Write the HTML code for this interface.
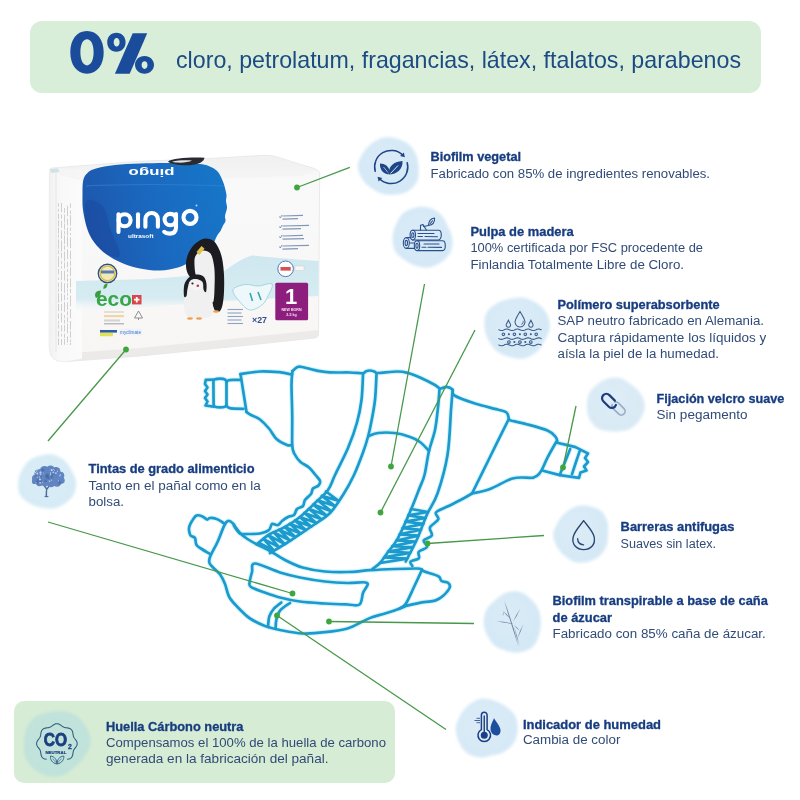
<!DOCTYPE html>
<html><head><meta charset="utf-8"><style>
html,body{margin:0;padding:0;background:#fff;}
body{width:800px;height:800px;position:relative;overflow:hidden;font-family:"Liberation Sans", sans-serif;}
.box{position:absolute;}
svg{position:absolute;left:0;top:0;will-change:transform;}
text{font-family:"Liberation Sans", sans-serif;}
</style></head><body>
<div class="box" style="left:30px;top:21px;width:731px;height:72px;background:#d9eed8;border-radius:12px;"></div>
<div class="box" style="left:14px;top:701px;width:381px;height:82px;background:#d7ecd5;border-radius:10px;"></div>
<svg width="800" height="800" viewBox="0 0 800 800">
<defs><filter id="bl" x="-20%" y="-20%" width="140%" height="140%"><feGaussianBlur stdDeviation="1.6"/></filter>
<radialGradient id="bg0" cx="0.45" cy="0.42" r="0.6"><stop offset="0" stop-color="#d4e8f6" stop-opacity="0.85"/><stop offset="0.8" stop-color="#d4e8f6"/><stop offset="1" stop-color="#d4e8f6"/></radialGradient>
<radialGradient id="bg1" cx="0.45" cy="0.42" r="0.6"><stop offset="0" stop-color="#d4e8f6" stop-opacity="0.85"/><stop offset="0.8" stop-color="#d4e8f6"/><stop offset="1" stop-color="#d4e8f6"/></radialGradient>
<radialGradient id="bg2" cx="0.45" cy="0.42" r="0.6"><stop offset="0" stop-color="#d5e9f6" stop-opacity="0.85"/><stop offset="0.8" stop-color="#d5e9f6"/><stop offset="1" stop-color="#d5e9f6"/></radialGradient>
<radialGradient id="bg3" cx="0.45" cy="0.42" r="0.6"><stop offset="0" stop-color="#d9eaf5" stop-opacity="0.85"/><stop offset="0.8" stop-color="#d9eaf5"/><stop offset="1" stop-color="#d9eaf5"/></radialGradient>
<radialGradient id="bg4" cx="0.45" cy="0.42" r="0.6"><stop offset="0" stop-color="#d5e9f5" stop-opacity="0.85"/><stop offset="0.8" stop-color="#d5e9f5"/><stop offset="1" stop-color="#d5e9f5"/></radialGradient>
<radialGradient id="bg5" cx="0.45" cy="0.42" r="0.6"><stop offset="0" stop-color="#d4e8f5" stop-opacity="0.85"/><stop offset="0.8" stop-color="#d4e8f5"/><stop offset="1" stop-color="#d4e8f5"/></radialGradient>
<radialGradient id="bg6" cx="0.45" cy="0.42" r="0.6"><stop offset="0" stop-color="#d6e9f6" stop-opacity="0.85"/><stop offset="0.8" stop-color="#d6e9f6"/><stop offset="1" stop-color="#d6e9f6"/></radialGradient>
<radialGradient id="bg7" cx="0.45" cy="0.42" r="0.6"><stop offset="0" stop-color="#d6ebf5" stop-opacity="0.85"/><stop offset="0.8" stop-color="#d6ebf5"/><stop offset="1" stop-color="#d6ebf5"/></radialGradient>
<radialGradient id="bg8" cx="0.45" cy="0.42" r="0.6"><stop offset="0" stop-color="#bfe2da" stop-opacity="0.85"/><stop offset="0.8" stop-color="#bfe2da"/><stop offset="1" stop-color="#bfe2da"/></radialGradient>
</defs>
<path d="M418.5,166.5 C418.8,170.9 419.3,176.0 417.7,180.1 C416.1,184.1 412.4,188.3 408.8,190.7 C405.2,193.1 400.1,193.9 395.9,194.4 C391.6,195.0 387.2,195.0 383.2,194.0 C379.2,193.0 375.4,190.9 372.0,188.4 C368.6,186.0 365.0,183.1 362.7,179.4 C360.3,175.8 357.9,170.8 357.9,166.5 C357.9,162.2 360.4,157.4 362.7,153.6 C364.9,149.8 368.0,146.4 371.4,143.8 C374.8,141.1 378.8,138.6 382.9,137.7 C387.0,136.8 391.8,137.4 395.9,138.4 C400.0,139.4 404.4,141.0 407.8,143.6 C411.1,146.2 413.9,150.1 415.7,153.9 C417.5,157.7 418.1,162.1 418.5,166.5Z" fill="url(#bg0)" filter="url(#bl)"/>
<path d="M452.1,237.5 C452.7,241.8 452.8,247.2 451.0,251.2 C449.3,255.3 445.5,259.1 441.9,261.8 C438.3,264.5 433.6,266.7 429.3,267.4 C425.0,268.0 420.2,267.0 416.0,265.8 C411.9,264.6 408.1,262.4 404.6,259.9 C401.1,257.4 397.0,254.5 395.0,250.7 C393.0,247.0 392.6,241.8 392.7,237.5 C392.9,233.2 394.1,228.7 395.9,224.7 C397.6,220.6 399.9,216.1 403.2,213.3 C406.5,210.4 411.3,208.5 415.7,207.5 C420.0,206.6 425.1,206.5 429.3,207.7 C433.5,208.8 437.9,211.5 440.9,214.5 C443.9,217.4 445.5,221.7 447.3,225.5 C449.2,229.4 451.5,233.2 452.1,237.5Z" fill="url(#bg1)" filter="url(#bl)"/>
<path d="M549.8,327.5 C549.5,332.1 546.8,336.7 544.6,340.8 C542.5,344.9 540.1,349.2 536.6,352.1 C533.2,355.0 528.4,357.5 524.0,358.4 C519.6,359.2 514.6,358.3 510.2,357.2 C505.8,356.1 501.2,354.5 497.6,351.8 C494.1,349.1 491.0,345.1 488.9,341.1 C486.7,337.0 485.0,332.2 484.6,327.5 C484.2,322.8 484.4,316.9 486.5,312.8 C488.7,308.8 493.6,305.5 497.6,303.1 C501.5,300.8 506.1,299.7 510.4,298.8 C514.8,297.9 519.4,297.0 523.8,297.7 C528.1,298.5 532.7,300.5 536.5,303.0 C540.3,305.6 544.5,309.1 546.7,313.2 C548.9,317.3 550.1,322.9 549.8,327.5Z" fill="url(#bg2)" filter="url(#bl)"/>
<path d="M644.8,405.5 C644.9,409.6 643.1,414.4 641.0,418.0 C639.0,421.7 635.9,425.2 632.5,427.4 C629.1,429.6 624.8,430.6 620.9,431.3 C617.0,431.9 613.1,431.7 609.1,431.2 C605.1,430.7 600.3,430.3 596.9,428.1 C593.6,425.9 590.6,421.8 588.9,418.1 C587.2,414.3 586.8,409.7 586.9,405.5 C586.9,401.3 587.5,396.8 589.3,393.1 C591.2,389.5 594.5,386.3 597.7,383.9 C601.0,381.4 604.9,379.2 608.8,378.3 C612.7,377.4 617.4,377.3 621.2,378.4 C625.0,379.5 628.3,382.3 631.5,384.8 C634.7,387.3 638.1,389.8 640.3,393.3 C642.6,396.7 644.7,401.4 644.8,405.5Z" fill="url(#bg3)" filter="url(#bl)"/>
<path d="M607.9,534.0 C607.8,538.0 607.9,542.2 606.6,545.8 C605.2,549.5 602.6,553.4 599.6,556.0 C596.5,558.7 592.3,560.7 588.3,561.7 C584.3,562.8 579.5,563.3 575.6,562.3 C571.6,561.3 567.8,558.4 564.7,555.7 C561.5,553.0 558.6,549.8 556.7,546.2 C554.8,542.6 553.1,538.0 553.3,534.0 C553.5,530.0 555.9,525.9 557.9,522.4 C559.9,518.9 562.3,515.7 565.3,513.1 C568.3,510.4 571.9,507.7 575.7,506.5 C579.6,505.3 584.3,505.2 588.4,505.9 C592.6,506.6 597.5,508.0 600.6,510.6 C603.8,513.3 606.2,517.9 607.4,521.8 C608.6,525.7 608.1,530.0 607.9,534.0Z" fill="url(#bg4)" filter="url(#bl)"/>
<path d="M540.8,622.5 C540.8,626.6 540.3,630.9 538.9,635.0 C537.6,639.1 535.8,644.2 532.6,647.1 C529.4,650.0 524.1,651.6 519.8,652.2 C515.4,652.9 510.7,652.1 506.5,650.9 C502.3,649.8 497.9,648.2 494.6,645.6 C491.4,642.9 488.9,638.8 487.1,635.0 C485.2,631.2 483.8,626.7 483.8,622.5 C483.7,618.3 484.6,613.5 486.5,609.7 C488.4,606.0 491.9,603.0 495.2,600.2 C498.5,597.3 502.1,594.1 506.2,592.7 C510.3,591.4 515.8,590.8 520.0,591.9 C524.2,593.0 528.2,596.5 531.3,599.5 C534.5,602.5 537.1,606.3 538.7,610.1 C540.3,614.0 540.7,618.4 540.8,622.5Z" fill="url(#bg5)" filter="url(#bl)"/>
<path d="M517.7,728.5 C517.6,733.0 516.5,738.1 514.4,741.9 C512.2,745.7 508.4,749.2 504.8,751.4 C501.2,753.7 496.8,754.3 492.6,755.3 C488.5,756.3 484.2,757.8 479.9,757.4 C475.6,757.1 470.5,755.6 466.9,753.0 C463.4,750.4 460.7,745.9 458.8,741.8 C457.0,737.7 455.6,732.9 455.8,728.5 C456.0,724.1 457.8,719.5 459.9,715.7 C462.0,711.9 464.9,708.4 468.2,705.6 C471.5,702.8 475.6,699.8 479.7,698.9 C483.9,698.0 488.8,699.1 493.0,700.2 C497.1,701.3 501.1,703.3 504.7,705.7 C508.3,708.2 512.4,711.2 514.6,715.0 C516.8,718.8 517.7,724.0 517.7,728.5Z" fill="url(#bg6)" filter="url(#bl)"/>
<path d="M76.2,482.0 C76.5,486.1 75.6,491.2 73.6,494.8 C71.6,498.5 67.9,501.6 64.4,503.9 C61.0,506.2 56.9,507.9 53.1,508.5 C49.2,509.1 45.1,508.3 41.2,507.5 C37.3,506.6 33.4,505.6 29.8,503.5 C26.3,501.4 22.0,498.6 20.1,495.0 C18.1,491.4 17.9,486.2 18.2,482.0 C18.5,477.8 20.0,473.5 21.9,469.9 C23.8,466.3 26.4,462.6 29.6,460.2 C32.8,457.8 37.0,456.4 41.0,455.5 C44.9,454.6 49.3,453.9 53.2,454.7 C57.1,455.5 61.3,457.7 64.3,460.3 C67.3,462.9 69.4,466.6 71.4,470.2 C73.4,473.9 75.8,477.9 76.2,482.0Z" fill="url(#bg7)" filter="url(#bl)"/>
<path d="M90.5,743.0 C90.1,747.8 87.2,752.8 84.6,756.8 C82.1,760.8 78.5,763.7 74.9,766.8 C71.4,769.8 67.8,773.6 63.3,775.2 C58.9,776.7 53.2,777.0 48.4,776.1 C43.7,775.2 38.6,772.7 34.8,769.6 C30.9,766.6 27.3,762.1 25.5,757.7 C23.7,753.3 23.8,747.8 23.9,743.0 C24.1,738.2 24.6,733.1 26.5,728.8 C28.3,724.4 31.5,719.7 35.2,717.0 C39.0,714.2 44.3,713.2 49.0,712.3 C53.7,711.3 58.5,710.6 63.2,711.3 C67.9,712.0 73.3,713.6 77.2,716.4 C81.1,719.2 84.6,723.7 86.8,728.1 C89.1,732.6 90.8,738.2 90.5,743.0Z" fill="url(#bg8)" filter="url(#bl)"/>
<g>
<defs><linearGradient id="pkL" x1="0" x2="1" y1="0" y2="0"><stop offset="0" stop-color="#f1f1f1"/><stop offset="0.3" stop-color="#f8f8f8"/><stop offset="1" stop-color="#fbfbfb"/></linearGradient><linearGradient id="pkB" x1="0" x2="1" y1="0.3" y2="0.1"><stop offset="0" stop-color="#1d58ae"/><stop offset="0.45" stop-color="#1a69c0"/><stop offset="1" stop-color="#1677c8"/></linearGradient><linearGradient id="ice" x1="0" x2="0" y1="0" y2="1"><stop offset="0" stop-color="#cfe7ef"/><stop offset="0.75" stop-color="#d6ecf2"/><stop offset="1" stop-color="#f3f8f9" stop-opacity="0"/></linearGradient><linearGradient id="pkBody" x1="0" x2="0" y1="0" y2="1"><stop offset="0" stop-color="#f2f2f2"/><stop offset="0.12" stop-color="#f9f9f9"/><stop offset="1" stop-color="#f8f6f5"/></linearGradient></defs>
<path d="M49.4,171 C49.4,169 50.5,168.2 52,168 L140,161.3 L204,158.8 L264,155.3 C270,155.2 274,156 278,157.2 L292.5,161.9 L311,167.5 C316,169 319.5,170.5 319.7,173.5 L318.5,333.5 C318.3,336.5 317.3,337.6 314.5,338 L240,346 L140,356 L66,361.6 C59,361.8 54,360.3 51.5,356.5 C49.8,353.5 49.2,350 49.2,346 Z" fill="url(#pkBody)" stroke="#e4e4e4" stroke-width="0.8"/>
<path d="M49.5,340 C55,350 60,353 70,353 L140,348 L240,338 L318.5,330 L318.5,333.5 C318.3,336.5 317.3,337.6 314.5,338 L240,346 L140,356 L66,361.6 C59,361.8 54,360.3 51.5,356.5 C49.8,353.5 49.2,350 49.2,346 Z" fill="#e9e7e6" opacity="0.8"/>
<path d="M49.6,171 C49.8,169 51,168.3 52.5,168.2 L82,170 L82,358.5 L66,361.4 C59,361.6 54,360 51.6,356.4 C50,353.5 49.4,350 49.4,346 Z" fill="url(#pkL)"/>
<line x1="56" y1="172" x2="56" y2="352" stroke="#e6e6e6" stroke-width="1"/>
<path d="M50,169 L58,168.3 L60,172 L51,173 Z" fill="#cfe3e6"/>
<line x1="58.5" y1="203.2" x2="58.5" y2="206.6" stroke="#cfcfcf" stroke-width="1"/>
<line x1="58.5" y1="208.9" x2="58.5" y2="211.5" stroke="#cfcfcf" stroke-width="1"/>
<line x1="58.5" y1="213.6" x2="58.5" y2="218.9" stroke="#cfcfcf" stroke-width="1"/>
<line x1="58.5" y1="220.0" x2="58.5" y2="226.6" stroke="#cfcfcf" stroke-width="1"/>
<line x1="58.5" y1="227.7" x2="58.5" y2="233.6" stroke="#cfcfcf" stroke-width="1"/>
<line x1="58.5" y1="234.7" x2="58.5" y2="237.5" stroke="#cfcfcf" stroke-width="1"/>
<line x1="58.5" y1="239.4" x2="58.5" y2="248.8" stroke="#cfcfcf" stroke-width="1"/>
<line x1="58.5" y1="250.1" x2="58.5" y2="254.1" stroke="#cfcfcf" stroke-width="1"/>
<line x1="58.5" y1="256.3" x2="58.5" y2="266.9" stroke="#cfcfcf" stroke-width="1"/>
<line x1="58.5" y1="269.0" x2="58.5" y2="274.6" stroke="#cfcfcf" stroke-width="1"/>
<line x1="58.5" y1="277.5" x2="58.5" y2="280.0" stroke="#cfcfcf" stroke-width="1"/>
<line x1="58.5" y1="282.7" x2="58.5" y2="287.3" stroke="#cfcfcf" stroke-width="1"/>
<line x1="58.5" y1="288.6" x2="58.5" y2="291.6" stroke="#cfcfcf" stroke-width="1"/>
<line x1="58.5" y1="293.2" x2="58.5" y2="302.6" stroke="#cfcfcf" stroke-width="1"/>
<line x1="58.5" y1="304.0" x2="58.5" y2="311.2" stroke="#cfcfcf" stroke-width="1"/>
<line x1="58.5" y1="313.5" x2="58.5" y2="318.8" stroke="#cfcfcf" stroke-width="1"/>
<line x1="58.5" y1="320.9" x2="58.5" y2="323.5" stroke="#cfcfcf" stroke-width="1"/>
<line x1="58.5" y1="324.6" x2="58.5" y2="328.5" stroke="#cfcfcf" stroke-width="1"/>
<line x1="58.5" y1="330.8" x2="58.5" y2="336.7" stroke="#cfcfcf" stroke-width="1"/>
<line x1="58.5" y1="338.3" x2="58.5" y2="345.0" stroke="#cfcfcf" stroke-width="1"/>
<line x1="61.5" y1="203.0" x2="61.5" y2="212.1" stroke="#cfcfcf" stroke-width="1"/>
<line x1="61.5" y1="214.5" x2="61.5" y2="218.7" stroke="#cfcfcf" stroke-width="1"/>
<line x1="61.5" y1="220.9" x2="61.5" y2="227.6" stroke="#cfcfcf" stroke-width="1"/>
<line x1="61.5" y1="230.4" x2="61.5" y2="238.9" stroke="#cfcfcf" stroke-width="1"/>
<line x1="61.5" y1="240.5" x2="61.5" y2="251.3" stroke="#cfcfcf" stroke-width="1"/>
<line x1="61.5" y1="252.6" x2="61.5" y2="258.3" stroke="#cfcfcf" stroke-width="1"/>
<line x1="61.5" y1="260.8" x2="61.5" y2="264.2" stroke="#cfcfcf" stroke-width="1"/>
<line x1="61.5" y1="266.2" x2="61.5" y2="268.5" stroke="#cfcfcf" stroke-width="1"/>
<line x1="61.5" y1="270.9" x2="61.5" y2="279.8" stroke="#cfcfcf" stroke-width="1"/>
<line x1="61.5" y1="281.9" x2="61.5" y2="291.8" stroke="#cfcfcf" stroke-width="1"/>
<line x1="61.5" y1="293.4" x2="61.5" y2="301.7" stroke="#cfcfcf" stroke-width="1"/>
<line x1="61.5" y1="303.9" x2="61.5" y2="311.1" stroke="#cfcfcf" stroke-width="1"/>
<line x1="61.5" y1="313.0" x2="61.5" y2="322.6" stroke="#cfcfcf" stroke-width="1"/>
<line x1="61.5" y1="325.4" x2="61.5" y2="331.7" stroke="#cfcfcf" stroke-width="1"/>
<line x1="61.5" y1="334.0" x2="61.5" y2="336.6" stroke="#cfcfcf" stroke-width="1"/>
<line x1="61.5" y1="339.0" x2="61.5" y2="345.0" stroke="#cfcfcf" stroke-width="1"/>
<line x1="64.5" y1="208.2" x2="64.5" y2="212.8" stroke="#cfcfcf" stroke-width="1"/>
<line x1="64.5" y1="214.6" x2="64.5" y2="222.6" stroke="#cfcfcf" stroke-width="1"/>
<line x1="64.5" y1="223.6" x2="64.5" y2="229.8" stroke="#cfcfcf" stroke-width="1"/>
<line x1="64.5" y1="231.1" x2="64.5" y2="234.2" stroke="#cfcfcf" stroke-width="1"/>
<line x1="64.5" y1="235.3" x2="64.5" y2="244.2" stroke="#cfcfcf" stroke-width="1"/>
<line x1="64.5" y1="245.5" x2="64.5" y2="249.7" stroke="#cfcfcf" stroke-width="1"/>
<line x1="64.5" y1="251.5" x2="64.5" y2="261.3" stroke="#cfcfcf" stroke-width="1"/>
<line x1="64.5" y1="262.5" x2="64.5" y2="268.5" stroke="#cfcfcf" stroke-width="1"/>
<line x1="64.5" y1="270.6" x2="64.5" y2="280.6" stroke="#cfcfcf" stroke-width="1"/>
<line x1="64.5" y1="283.2" x2="64.5" y2="293.0" stroke="#cfcfcf" stroke-width="1"/>
<line x1="64.5" y1="294.5" x2="64.5" y2="300.3" stroke="#cfcfcf" stroke-width="1"/>
<line x1="64.5" y1="302.0" x2="64.5" y2="311.9" stroke="#cfcfcf" stroke-width="1"/>
<line x1="64.5" y1="314.9" x2="64.5" y2="318.2" stroke="#cfcfcf" stroke-width="1"/>
<line x1="64.5" y1="319.6" x2="64.5" y2="323.7" stroke="#cfcfcf" stroke-width="1"/>
<line x1="64.5" y1="325.1" x2="64.5" y2="331.5" stroke="#cfcfcf" stroke-width="1"/>
<line x1="64.5" y1="333.7" x2="64.5" y2="338.0" stroke="#cfcfcf" stroke-width="1"/>
<line x1="64.5" y1="339.0" x2="64.5" y2="344.8" stroke="#cfcfcf" stroke-width="1"/>
<line x1="67.5" y1="205.7" x2="67.5" y2="216.2" stroke="#cfcfcf" stroke-width="1"/>
<line x1="67.5" y1="218.6" x2="67.5" y2="225.3" stroke="#cfcfcf" stroke-width="1"/>
<line x1="67.5" y1="227.5" x2="67.5" y2="235.6" stroke="#cfcfcf" stroke-width="1"/>
<line x1="67.5" y1="236.7" x2="67.5" y2="246.8" stroke="#cfcfcf" stroke-width="1"/>
<line x1="67.5" y1="249.3" x2="67.5" y2="259.2" stroke="#cfcfcf" stroke-width="1"/>
<line x1="67.5" y1="261.8" x2="67.5" y2="267.3" stroke="#cfcfcf" stroke-width="1"/>
<line x1="67.5" y1="269.1" x2="67.5" y2="272.1" stroke="#cfcfcf" stroke-width="1"/>
<line x1="67.5" y1="274.3" x2="67.5" y2="276.9" stroke="#cfcfcf" stroke-width="1"/>
<line x1="67.5" y1="278.0" x2="67.5" y2="281.9" stroke="#cfcfcf" stroke-width="1"/>
<line x1="67.5" y1="283.2" x2="67.5" y2="288.3" stroke="#cfcfcf" stroke-width="1"/>
<line x1="67.5" y1="289.4" x2="67.5" y2="291.4" stroke="#cfcfcf" stroke-width="1"/>
<line x1="67.5" y1="292.7" x2="67.5" y2="295.6" stroke="#cfcfcf" stroke-width="1"/>
<line x1="67.5" y1="297.4" x2="67.5" y2="299.6" stroke="#cfcfcf" stroke-width="1"/>
<line x1="67.5" y1="302.3" x2="67.5" y2="309.9" stroke="#cfcfcf" stroke-width="1"/>
<line x1="67.5" y1="311.2" x2="67.5" y2="315.4" stroke="#cfcfcf" stroke-width="1"/>
<line x1="67.5" y1="317.1" x2="67.5" y2="322.4" stroke="#cfcfcf" stroke-width="1"/>
<line x1="67.5" y1="323.6" x2="67.5" y2="333.3" stroke="#cfcfcf" stroke-width="1"/>
<line x1="67.5" y1="336.3" x2="67.5" y2="342.5" stroke="#cfcfcf" stroke-width="1"/>
<line x1="67.5" y1="344.4" x2="67.5" y2="345.0" stroke="#cfcfcf" stroke-width="1"/>
<line x1="70.5" y1="203.4" x2="70.5" y2="207.8" stroke="#cfcfcf" stroke-width="1"/>
<line x1="70.5" y1="210.5" x2="70.5" y2="213.9" stroke="#cfcfcf" stroke-width="1"/>
<line x1="70.5" y1="215.0" x2="70.5" y2="225.5" stroke="#cfcfcf" stroke-width="1"/>
<line x1="70.5" y1="227.6" x2="70.5" y2="230.9" stroke="#cfcfcf" stroke-width="1"/>
<line x1="70.5" y1="233.0" x2="70.5" y2="235.2" stroke="#cfcfcf" stroke-width="1"/>
<line x1="70.5" y1="237.3" x2="70.5" y2="248.1" stroke="#cfcfcf" stroke-width="1"/>
<line x1="70.5" y1="250.8" x2="70.5" y2="259.1" stroke="#cfcfcf" stroke-width="1"/>
<line x1="70.5" y1="260.6" x2="70.5" y2="265.9" stroke="#cfcfcf" stroke-width="1"/>
<line x1="70.5" y1="267.2" x2="70.5" y2="276.2" stroke="#cfcfcf" stroke-width="1"/>
<line x1="70.5" y1="278.3" x2="70.5" y2="287.3" stroke="#cfcfcf" stroke-width="1"/>
<line x1="70.5" y1="288.9" x2="70.5" y2="292.9" stroke="#cfcfcf" stroke-width="1"/>
<line x1="70.5" y1="295.6" x2="70.5" y2="306.4" stroke="#cfcfcf" stroke-width="1"/>
<line x1="70.5" y1="309.1" x2="70.5" y2="318.4" stroke="#cfcfcf" stroke-width="1"/>
<line x1="70.5" y1="321.0" x2="70.5" y2="329.7" stroke="#cfcfcf" stroke-width="1"/>
<line x1="70.5" y1="331.1" x2="70.5" y2="337.8" stroke="#cfcfcf" stroke-width="1"/>
<line x1="70.5" y1="339.5" x2="70.5" y2="341.8" stroke="#cfcfcf" stroke-width="1"/>
<line x1="70.5" y1="342.8" x2="70.5" y2="345.0" stroke="#cfcfcf" stroke-width="1"/>
<path d="M57,167.5 L167,161.2 L264,155.8 C272,155.7 278,157 285,159.5 C296,163 308,167 316,170.5 L300,176 L230,178 L88,182 L60,175 Z" fill="#efefef" opacity="0.45"/>
<path d="M76,281 L150,279 L200,275 L222,272.5 C232,266 242,258 252,255.6 C262,256 268,257 274,257.5 C290,259 305,260 318.5,261 L318.5,296 L210,302 L76,313 Z" fill="url(#ice)"/>
<path d="M83.3,180.0 C84.2,176.2 85.9,174.4 88.0,172.5 C90.1,170.6 91.5,169.8 96.0,168.5 C100.5,167.2 107.7,165.8 115.0,165.0 C122.3,164.2 130.8,163.8 140.0,163.5 C149.2,163.2 160.0,162.9 170.0,163.0 C180.0,163.1 193.0,163.2 200.0,164.0 C207.0,164.8 209.0,166.2 212.0,167.5 C215.0,168.8 216.5,170.4 218.0,172.0 C219.5,173.6 220.1,175.2 221.0,177.0 C221.9,178.8 222.8,181.2 223.5,183.0 C224.2,184.8 224.5,186.0 225.0,188.0 C225.5,190.0 226.3,192.8 226.5,195.0 C226.7,197.2 225.9,198.8 226.0,201.0 C226.1,203.2 227.2,205.5 227.0,208.0 C226.8,210.5 225.2,213.8 225.0,216.0 C224.8,218.2 225.8,219.4 225.5,221.0 C225.2,222.6 223.8,223.9 223.0,225.6 C222.2,227.3 221.4,229.4 220.5,231.0 C219.6,232.6 218.3,233.7 217.5,235.0 C216.7,236.3 216.1,237.8 215.5,239.0 C214.9,240.2 215.4,240.3 213.8,242.5 C212.2,244.7 209.6,248.9 206.0,252.0 C202.4,255.1 196.7,258.4 192.0,261.0 C187.3,263.6 183.3,265.9 178.0,267.5 C172.7,269.1 166.3,270.3 160.0,270.5 C153.7,270.7 146.3,269.8 140.0,268.5 C133.7,267.2 127.7,265.4 122.0,263.0 C116.3,260.6 110.7,257.5 106.0,254.0 C101.3,250.5 97.2,246.3 94.0,242.0 C90.8,237.7 88.8,233.3 87.0,228.0 C85.2,222.7 83.8,215.5 83.0,210.0 C82.2,204.5 82.5,200.0 82.5,195.0 C82.5,190.0 82.4,183.8 83.3,180.0Z" fill="url(#pkB)"/>
<path d="M85.0,205.0 C85.8,200.3 88.8,199.5 92.0,200.0 C95.2,200.5 101.0,203.3 104.0,208.0 C107.0,212.7 107.3,220.2 110.0,228.0 C112.7,235.8 120.7,250.7 120.0,255.0 C119.3,259.3 110.3,256.2 106.0,254.0 C101.7,251.8 97.2,246.3 94.0,242.0 C90.8,237.7 88.5,234.2 87.0,228.0 C85.5,221.8 84.2,209.7 85.0,205.0Z" fill="#1b3f95" opacity="0.35"/>
<path d="M86,186 C120,184 180,184 224,186" stroke="#3c86d0" stroke-width="1.2" fill="none" opacity="0.6"/>
<text x="0" y="0" transform="translate(151.5,168.5) rotate(180)" font-size="11" font-weight="700" fill="#ffffff" text-anchor="middle" textLength="46" lengthAdjust="spacingAndGlyphs">pingo</text>
<g fill="none" stroke="#ffffff" stroke-width="4.1" stroke-linecap="round"><path d="M118.5,214.3 L118.5,232"/><circle cx="124.6" cy="220.3" r="6.0"/><path d="M138,214.3 L138,226.8"/><path d="M145.4,226.8 L145.4,219.2 A6.25,6.25 0 0 1 157.9,219.2 L157.9,226.8"/><circle cx="170.3" cy="219.6" r="5.7"/><path d="M176,214 L176,227.5 C176,232 173,233.6 169.5,233.6 C167,233.6 165.2,232.8 164.2,231.8"/><circle cx="190" cy="217.4" r="6.5"/></g>
<text x="128" y="237.6" font-size="6" font-weight="700" fill="#ffffff" textLength="25.5" lengthAdjust="spacingAndGlyphs">ultrasoft</text>
<circle cx="196.5" cy="205.5" r="1" fill="#a8d8ff"/>
<path d="M168,161.5 C172,158.5 190,157 204.5,157.8 C204,161.5 199,164.8 190,165.2 C180,165.6 171,164.5 168,161.5 Z" fill="#2a2b30"/>
<path d="M172,161.8 C178,160.2 186,160 192,160.6 C188,162.8 178,163.4 172,161.8 Z" fill="#e4e4e4"/>
<path d="M205.0,238.5 C207.8,238.1 210.8,239.1 213.0,240.5 C215.2,241.9 216.5,244.1 218.0,247.0 C219.5,249.9 221.0,253.3 222.0,258.0 C223.0,262.7 223.7,269.3 224.0,275.0 C224.3,280.7 224.2,287.0 224.0,292.0 C223.8,297.0 223.2,301.8 222.5,305.0 C221.8,308.2 220.8,310.6 219.5,311.5 C218.2,312.4 216.2,311.9 215.0,310.5 C213.8,309.1 213.3,305.8 212.0,303.0 C210.7,300.2 209.0,296.8 207.0,294.0 C205.0,291.2 202.3,288.3 200.0,286.0 C197.7,283.7 195.1,282.2 193.0,280.0 C190.9,277.8 188.7,275.8 187.5,273.0 C186.3,270.2 185.8,266.5 186.0,263.0 C186.2,259.5 187.3,255.3 189.0,252.0 C190.7,248.7 193.3,245.2 196.0,243.0 C198.7,240.8 202.2,238.9 205.0,238.5Z" fill="#1c1c20"/>
<path d="M195.5,256.0 C196.8,253.6 199.5,250.9 202.0,250.5 C204.5,250.1 208.5,250.8 210.5,253.5 C212.5,256.2 213.5,261.8 214.2,267.0 C214.9,272.2 214.8,279.2 214.6,285.0 C214.4,290.8 214.3,300.0 213.2,302.0 C212.1,304.0 210.0,299.5 208.0,297.0 C206.0,294.5 203.0,290.5 201.0,287.0 C199.0,283.5 197.1,279.7 196.0,276.0 C194.9,272.3 194.6,268.3 194.5,265.0 C194.4,261.7 194.2,258.4 195.5,256.0Z" fill="#f0f0f0"/>
<path d="M196.5,252 L201.5,246 L204.5,248.5 L199.5,255 Z" fill="#e2c04a"/>
<path d="M185.0,292.0 C185.5,288.2 185.5,284.7 187.0,282.0 C188.5,279.3 191.5,276.8 194.0,276.0 C196.5,275.2 200.0,275.5 202.0,277.0 C204.0,278.5 204.7,282.0 206.0,285.0 C207.3,288.0 208.8,291.5 210.0,295.0 C211.2,298.5 212.8,302.5 213.0,306.0 C213.2,309.5 213.5,313.9 211.0,316.0 C208.5,318.1 202.0,318.5 198.0,318.5 C194.0,318.5 189.3,318.2 187.0,316.0 C184.7,313.8 184.3,309.0 184.0,305.0 C183.7,301.0 184.5,295.8 185.0,292.0Z" fill="#f0f0f0"/>
<path d="M184.0,296.0 C183.7,294.0 183.5,287.2 184.5,284.0 C185.5,280.8 187.8,278.1 190.0,276.5 C192.2,274.9 195.7,274.4 198.0,274.5 C200.3,274.6 202.6,275.4 204.0,277.0 C205.4,278.6 206.2,281.5 206.5,284.0 C206.8,286.5 206.5,291.1 206.0,292.0 C205.5,292.9 204.1,291.2 203.5,289.5 C202.9,287.8 203.8,283.8 202.5,282.0 C201.2,280.2 198.1,279.2 196.0,279.0 C193.9,278.8 191.4,279.3 190.0,281.0 C188.6,282.7 188.1,286.5 187.5,289.0 C186.9,291.5 187.1,294.8 186.5,296.0 C185.9,297.2 184.3,298.0 184.0,296.0Z" fill="#1e1e22"/>
<ellipse cx="195.5" cy="286" rx="5.2" ry="4.2" fill="#f5f5f5"/>
<circle cx="192.5" cy="283.5" r="1.1" fill="#222"/>
<circle cx="197.8" cy="285.8" r="1.3" fill="#b83848"/>
<ellipse cx="190" cy="318.5" rx="3" ry="1.3" fill="#f0a050"/>
<ellipse cx="199" cy="318.5" rx="3" ry="1.3" fill="#f0a050"/>
<ellipse cx="216" cy="311.5" rx="3" ry="1.3" fill="#f0a050"/>
<path d="M279.4,216.5 l0.9,1.5 l1.8,-3" stroke="#55709a" stroke-width="0.7" fill="none"/>
<line x1="282.5" y1="216" x2="303" y2="215.4" stroke="#8296b8" stroke-width="1.2"/>
<line x1="282.5" y1="219.2" x2="298" y2="218.7" stroke="#8296b8" stroke-width="1.2"/>
<path d="M279.4,226.5 l0.9,1.5 l1.8,-3" stroke="#55709a" stroke-width="0.7" fill="none"/>
<line x1="282.5" y1="226" x2="309" y2="225.4" stroke="#8296b8" stroke-width="1.2"/>
<line x1="282.5" y1="229.2" x2="301" y2="228.7" stroke="#8296b8" stroke-width="1.2"/>
<path d="M279.4,236.5 l0.9,1.5 l1.8,-3" stroke="#55709a" stroke-width="0.7" fill="none"/>
<line x1="282.5" y1="236" x2="303" y2="235.4" stroke="#8296b8" stroke-width="1.2"/>
<line x1="282.5" y1="239.2" x2="304" y2="238.7" stroke="#8296b8" stroke-width="1.2"/>
<path d="M279.4,246.5 l0.9,1.5 l1.8,-3" stroke="#55709a" stroke-width="0.7" fill="none"/>
<line x1="282.5" y1="246" x2="309" y2="245.4" stroke="#8296b8" stroke-width="1.2"/>
<line x1="282.5" y1="249.2" x2="298" y2="248.7" stroke="#8296b8" stroke-width="1.2"/>
<circle cx="285.6" cy="268.8" r="7.8" fill="#ffffff" stroke="#4f78b0" stroke-width="1"/>
<rect x="280.5" y="267" width="10.2" height="3.6" fill="#d94f52"/>
<rect x="295" y="266" width="9" height="4.5" fill="#f7f7f7" stroke="#cfcfcf" stroke-width="0.5"/>
<path d="M233.0,290.0 C233.8,287.1 240.8,285.2 245.0,284.5 C249.2,283.8 253.5,286.1 258.0,286.0 C262.5,285.9 270.3,282.3 272.0,284.0 C273.7,285.7 269.7,292.5 268.0,296.0 C266.3,299.5 265.0,302.7 262.0,305.0 C259.0,307.3 253.7,310.5 250.0,310.0 C246.3,309.5 242.8,305.3 240.0,302.0 C237.2,298.7 232.2,292.9 233.0,290.0Z" fill="#eef7f9" stroke="#8fd0dc" stroke-width="0.8"/>
<path d="M250,293 l2.5,8 M258,292 l3,8" stroke="#35a7b4" stroke-width="1.6"/>
<rect x="275.3" y="282.8" width="32.8" height="37.5" rx="1.5" fill="#8d1e7e"/>
<text x="291" y="303.6" font-size="22" font-weight="700" fill="#fff" text-anchor="middle">1</text>
<text x="291.5" y="311" font-size="3.6" font-weight="700" fill="#f6e6f3" text-anchor="middle">NEW BORN</text>
<text x="291.5" y="315.6" font-size="3.6" font-weight="700" fill="#f6e6f3" text-anchor="middle">2-5 kg</text>
<text x="252" y="323" font-size="9" font-weight="700" fill="#2f4f8a" textLength="15" lengthAdjust="spacingAndGlyphs">×27</text>
<line x1="227.5" y1="309.5" x2="243.0" y2="309.5" stroke="#8ea3c4" stroke-width="1.1"/>
<line x1="227.5" y1="313" x2="241.5" y2="313" stroke="#8ea3c4" stroke-width="1.1"/>
<line x1="227.5" y1="316.5" x2="243.0" y2="316.5" stroke="#8ea3c4" stroke-width="1.1"/>
<line x1="227.5" y1="320" x2="241.5" y2="320" stroke="#8ea3c4" stroke-width="1.1"/>
<line x1="227.5" y1="323.5" x2="243.0" y2="323.5" stroke="#8ea3c4" stroke-width="1.1"/>
<circle cx="107.5" cy="273.4" r="9.2" fill="#efe9c8" stroke="#2f4f80" stroke-width="1.4"/>
<circle cx="107.5" cy="273.4" r="7.2" fill="none" stroke="#d8c040" stroke-width="1.3"/>
<path d="M101,270.5 L114,270.5 L114,273.5 L101,273.5 Z" fill="#5b7cab"/>
<path d="M102,274.5 C105,279 110,279 113,274.5 Z" fill="#f3e9a8"/>
<text x="96" y="306" font-size="21" font-weight="700" fill="#37a646" textLength="36" lengthAdjust="spacingAndGlyphs">eco</text>
<path d="M96,298 C93.5,294 96,290.5 101,290.5 C101,294.5 99.5,297 96,298 Z" fill="#3e9b3e"/>
<path d="M103.5,289 C103,285.5 105,283.5 107.5,283.5 C107.5,286.5 106.5,288.5 103.5,289 Z" fill="#3e9b3e"/>
<rect x="132" y="295" width="9.5" height="9.4" fill="#d8454a"/>
<path d="M136.75,297 v5.4 M134,299.7 h5.5" stroke="#fff" stroke-width="1.8"/>
<rect x="104" y="311" width="20" height="2" fill="#e5e0d5"/>
<rect x="104" y="315" width="20" height="2.2" fill="#efd5a8"/>
<rect x="104" y="319.5" width="16" height="2" fill="#d2d2d2"/>
<rect x="104" y="323" width="20" height="1.5" fill="#bbbbbb"/>
<path d="M134.5,318 l4,-7 l4,7 z M138.5,318 v2" fill="none" stroke="#777" stroke-width="0.8"/>
<rect x="100" y="330" width="17" height="2.6" fill="#2b5ea8"/>
<rect x="100" y="333" width="13" height="3.2" fill="#e6e24a"/>
<rect x="118.5" y="328.5" width="23.5" height="7" rx="1" fill="#eef3fb"/>
<text x="120" y="334" font-size="5" fill="#3e74c0" textLength="21" lengthAdjust="spacingAndGlyphs">myclimate</text>
</g>
<g fill="none" stroke="#c4f0fa" stroke-width="4.8" stroke-linecap="round" stroke-linejoin="round" opacity="0.75">
<path d="M213.4,379.6 L205.8,379.8 L205.0,384.0 L207.5,387.5 L205.0,391.0 L207.5,394.5 L205.0,398.0 L207.5,401.5 L205.5,405.5 L213.4,406.6"/>
<path d="M213.4,381.5 C213.4,379.2 215.5,378.6 220,378.6 C224.5,378.6 226.5,379.4 226.5,382 L226.5,404.5 C226.5,406.8 224.5,407.4 220,407.4 C215.5,407.4 213.6,406.8 213.6,404.5 Z"/>
<path d="M226.5,382.5 C226.5,380.6 228.5,379.9 233,379.9 L240.8,379.9 M226.5,404.5 C226.5,407.8 229,408.6 234,408.7 L243.5,408.8"/>
<path d="M246.5,412.0 C246.0,408.8 244.5,399.3 243.5,393.0 C242.5,386.7 241.0,377.2 240.5,374.0"/>
<path d="M240.5,374.0 C243.8,373.6 253.5,371.8 260.0,371.5 C266.5,371.2 274.2,371.8 279.5,372.2 C284.8,372.8 289.9,374.1 292.0,374.5"/>
<path d="M246.5,412.0 C247.2,412.5 248.8,413.8 251.0,415.0 C253.2,416.2 257.0,417.2 260.0,419.5 C263.0,421.8 266.2,425.2 269.0,428.5 C271.8,431.8 273.5,436.2 276.5,439.0 C279.5,441.8 284.4,444.0 287.0,445.0 C289.6,446.0 291.2,445.0 292.0,445.0"/>
<path d="M292.5,371.0 C292.3,373.3 291.5,377.7 291.5,385.0 C291.5,392.3 292.1,405.0 292.2,415.0 C292.4,425.0 291.9,438.5 292.2,445.0 C292.6,451.5 293.1,451.2 294.5,454.0 C295.9,456.8 298.1,459.8 300.5,462.0 C302.9,464.2 306.5,465.3 309.0,467.5 C311.5,469.7 313.7,472.8 315.5,475.0 C317.3,477.2 319.5,479.2 320.0,481.0 C320.5,482.8 319.7,484.2 318.5,485.5 C317.3,486.8 314.2,487.1 313.0,488.5 C311.8,489.9 312.3,492.1 311.0,494.0 C309.7,495.9 306.3,498.0 305.0,500.0 C303.7,502.0 304.3,504.5 303.0,506.0 C301.7,507.5 298.5,507.5 297.0,509.0 C295.5,510.5 295.5,513.7 294.0,515.0 C292.5,516.3 290.0,516.0 288.0,517.0 C286.0,518.0 283.7,519.7 282.0,521.0 C280.3,522.3 279.7,524.5 278.0,525.0 C276.3,525.5 273.5,523.2 272.0,524.0 C270.5,524.8 271.0,528.4 269.0,530.0 C267.0,531.6 263.5,532.8 260.0,533.5 C256.5,534.2 251.3,534.0 248.0,534.0 C244.7,534.0 242.3,534.8 240.0,533.5 C237.7,532.2 235.0,527.2 234.0,526.0"/>
<path d="M292.5,371.0 C293.3,370.3 295.9,367.7 297.5,367.0 C299.1,366.3 299.8,366.6 302.0,367.0 C304.2,367.4 306.8,368.4 311.0,369.2 C315.2,370.1 321.0,371.7 327.5,372.2 C334.0,372.8 344.1,372.3 350.0,372.5 C355.9,372.7 360.3,373.4 363.0,373.2 C365.7,373.0 364.8,371.6 366.0,371.2 C367.2,370.8 368.5,370.4 370.0,370.5 C371.5,370.6 373.7,371.4 375.0,371.8 C376.3,372.2 374.2,373.1 378.0,373.0 C381.8,372.9 392.5,371.5 397.5,371.5 C402.5,371.5 404.2,372.0 408.0,373.0 C411.8,374.0 415.5,375.5 420.0,377.5 C424.5,379.5 431.7,383.2 435.0,385.0 C438.3,386.8 438.1,388.2 440.0,388.5 C441.9,388.8 444.4,386.6 446.5,386.8 C448.6,387.0 451.2,388.1 452.5,389.5 C453.8,390.9 450.8,393.2 454.5,395.5 C458.2,397.8 467.8,401.2 475.0,403.5 C482.2,405.8 492.2,408.0 497.5,409.5 C502.8,411.0 504.6,411.0 506.5,412.5 C508.4,414.0 508.4,417.5 508.8,418.5"/>
<path d="M363.0,374.5 C362.8,378.8 362.5,392.0 361.5,400.0 C360.5,408.0 359.2,414.5 357.0,422.5 C354.8,430.5 351.7,439.2 348.0,448.0 C344.3,456.8 338.3,468.0 335.0,475.0 C331.7,482.0 331.3,485.3 328.0,490.0 C324.7,494.7 319.7,498.5 315.0,503.0 C310.3,507.5 305.0,513.0 300.0,517.0 C295.0,521.0 290.0,524.2 285.0,527.0 C280.0,529.8 274.7,531.2 270.0,534.0 C265.3,536.8 259.2,542.3 257.0,544.0"/>
<path d="M376.5,374.5 C376.2,378.8 375.9,392.0 375.0,400.0 C374.1,408.0 372.4,416.5 371.2,422.5 C370.1,428.5 369.6,431.0 368.2,436.0 C366.9,441.0 365.4,446.0 363.0,452.5 C360.6,459.0 357.3,467.9 354.0,475.0 C350.7,482.1 347.0,488.7 343.0,495.0 C339.0,501.3 334.7,508.2 330.0,513.0 C325.3,517.8 320.0,520.5 315.0,524.0 C310.0,527.5 305.0,530.7 300.0,534.0 C295.0,537.3 290.0,540.8 285.0,544.0 C280.0,547.2 272.5,551.5 270.0,553.0"/>
<path d="M326.0,491.5 L338.2,500.6 L321.8,495.9 L334.7,505.9 L317.6,500.3 L331.2,511.2 L313.3,504.6 L326.6,515.5 L308.8,508.8 L321.5,519.2 L304.4,512.9 L316.4,523.0 L299.9,517.1 L311.2,526.6 L294.9,520.4 L305.9,530.1 L289.8,523.8 L300.6,533.6 L284.7,527.1 L295.3,537.1 L279.2,529.7 L290.1,540.6 L273.7,532.3 L284.8,544.1 L268.4,535.3 L279.3,547.3 L263.7,539.1 L273.8,550.4 L259.0,543.0"/>
<path d="M369.0,436.0 C370.5,435.5 373.8,433.5 378.0,433.0 C382.2,432.5 389.2,432.4 394.5,433.0 C399.8,433.6 405.2,435.2 409.5,436.8 C413.8,438.2 416.8,439.6 420.0,442.0 C423.2,444.4 427.5,449.5 429.0,451.0"/>
<path d="M439.5,389.5 C439.2,392.5 438.8,400.8 438.0,407.5 C437.2,414.2 436.5,422.8 435.0,430.0 C433.5,437.2 430.8,443.5 429.0,451.0 C427.2,458.5 426.2,468.5 424.5,475.0 C422.8,481.5 421.3,483.4 418.8,490.0 C416.2,496.6 412.5,506.3 409.0,514.4 C405.5,522.5 401.1,532.5 397.6,538.8 C394.1,545.1 390.9,548.0 388.0,552.0 C385.1,556.0 382.7,560.1 380.0,563.0 C377.3,565.9 373.3,568.4 372.0,569.5"/>
<path d="M452.5,391.0 C452.2,394.2 451.8,399.3 451.0,410.0 C450.2,420.7 449.8,441.1 447.5,455.0 C445.2,468.9 440.9,483.6 437.5,493.5 C434.1,503.4 430.4,506.8 427.0,514.4 C423.6,521.9 420.7,530.9 417.2,538.8 C413.7,546.6 407.7,557.7 405.8,561.5"/>
<path d="M411.0,509.0 L427.9,512.0 L408.2,515.4 L425.6,518.0 L405.4,521.7 L423.4,523.9 L402.6,528.1 L421.0,529.8 L399.6,534.4 L418.5,535.7 L396.4,540.5 L415.8,541.5 L392.3,546.1 L412.9,547.2 L388.2,551.7 L410.1,552.9 L384.1,557.4 L407.2,558.6 L380.0,563.0"/>
<path d="M234.0,525.0 C235.0,526.3 237.8,530.7 240.0,533.0 C242.2,535.3 244.5,537.0 247.5,539.0 C250.5,541.0 254.2,543.0 258.0,545.0 C261.8,547.0 265.5,548.5 270.0,551.0 C274.5,553.5 279.6,557.2 285.0,560.0 C290.4,562.8 295.8,565.6 302.5,567.5 C309.2,569.4 317.5,570.8 325.0,571.5 C332.5,572.2 340.0,572.2 347.5,572.0 C355.0,571.8 362.1,570.7 370.0,570.2 C377.9,569.7 387.1,569.3 395.0,569.0 C402.9,568.7 412.7,568.4 417.2,568.5 C421.7,568.6 421.2,569.5 422.0,569.7"/>
<path d="M234.0,524.5 C233.2,523.9 231.0,521.1 229.5,521.0 C228.0,520.9 227.0,520.5 225.0,524.0 C223.0,527.5 220.0,536.5 217.5,542.0 C215.0,547.5 211.3,553.5 210.0,557.0 C208.7,560.5 209.0,561.2 209.5,563.0 C210.0,564.8 211.2,565.5 213.0,567.5 C214.8,569.5 218.5,572.2 220.5,575.0 C222.5,577.8 223.5,580.2 225.0,584.0 C226.5,587.8 227.0,593.2 229.5,597.5 C232.0,601.8 236.6,606.0 240.0,609.5 C243.4,613.0 245.8,615.8 250.0,618.5 C254.2,621.2 260.0,624.1 265.0,626.0 C270.0,627.9 273.8,628.8 280.0,630.0 C286.2,631.2 295.0,633.1 302.5,633.5 C310.0,633.9 317.5,633.1 325.0,632.2 C332.5,631.4 341.2,630.3 347.5,628.5 C353.8,626.7 358.4,623.4 362.5,621.5 C366.6,619.6 368.2,618.6 372.0,617.2 C375.8,615.9 380.4,614.9 385.0,613.5 C389.6,612.1 395.6,610.1 399.3,608.7 C403.0,607.4 406.0,606.0 407.4,605.4"/>
<path d="M255.0,563.5 C259.7,563.6 272.5,570.2 280.0,572.5 C287.5,574.8 292.5,576.0 300.0,577.5 C307.5,579.0 317.1,580.6 325.0,581.5 C332.9,582.4 340.5,582.8 347.5,583.0 C354.5,583.2 364.4,581.1 367.0,582.8 C369.6,584.4 364.2,589.4 363.0,593.0 C361.8,596.6 362.1,602.6 359.5,604.5 C356.9,606.4 353.2,604.7 347.5,604.5 C341.8,604.3 332.9,604.0 325.0,603.5 C317.1,603.0 307.5,602.5 300.0,601.5 C292.5,600.5 286.3,599.2 280.0,597.5 C273.7,595.8 266.8,593.2 262.0,591.5 C257.2,589.8 253.1,588.4 251.0,587.0 C248.9,585.6 249.3,585.5 249.5,583.0 C249.7,580.5 251.1,575.2 252.0,572.0 C252.9,568.8 250.3,563.4 255.0,563.5Z"/>
<path d="M268.0,627.0 C268.2,625.2 268.4,619.3 269.4,616.3 C270.4,613.3 271.8,611.1 273.8,608.8 C275.8,606.5 280.1,603.5 281.3,602.5"/>
<path d="M275.6,628.8 C275.7,627.3 275.6,623.0 276.3,620.0 C277.0,617.0 277.7,613.4 280.0,610.6 C282.3,607.8 288.3,604.3 290.0,603.0"/>
<path d="M508.8,419.0 C505.6,425.3 496.1,444.6 490.0,457.0 C483.9,469.4 475.0,487.4 472.0,493.5"/>
<path d="M508.8,420.0 C511.9,420.8 521.0,422.8 527.5,424.5 C534.0,426.2 542.9,428.5 547.5,430.5 C552.1,432.5 553.8,434.9 555.4,436.6 C557.0,438.4 557.0,440.1 557.1,441.0 C557.2,441.9 557.8,439.2 556.2,442.0 C554.6,444.8 549.8,453.1 547.5,457.6 C545.2,462.1 543.7,466.2 542.2,469.0 C540.8,471.8 540.2,472.8 538.8,474.2 C537.3,475.7 535.0,476.9 533.5,477.5 C532.0,478.1 533.5,477.6 530.0,477.8 C526.5,477.9 519.2,476.6 512.5,478.5 C505.8,480.4 496.8,486.5 490.0,489.0 C483.2,491.5 475.0,492.8 472.0,493.5"/>
<path d="M557.1,442.8 L568.5,445.4 L575.5,447.1 L579.0,448.9 L588.0,453.5 L585.0,458.0 L588.0,462.0 L584.0,466.5 L586.5,470.5 L580.5,472.5 L579.0,477.8 L559.8,475.1 L543.0,470.8"/>
<path d="M559.8,475.0 C560.6,472.8 563.2,466.4 565.0,462.0 C566.8,457.6 569.4,451.1 570.2,448.9"/>
<path d="M572.0,474.2 C572.7,472.2 574.7,465.9 576.0,462.0 C577.3,458.1 579.2,452.5 579.9,450.6"/>
<path d="M472.0,493.5 C470.2,494.6 465.0,497.7 461.0,499.8 C457.0,501.9 452.2,504.2 448.0,506.3 C443.8,508.4 437.6,510.3 436.0,512.5 C434.4,514.7 439.3,516.8 438.3,519.3 C437.3,521.8 431.1,524.7 430.0,527.4 C428.9,530.1 432.9,533.3 431.8,535.5 C430.8,537.7 424.5,538.5 423.7,540.4 C422.9,542.3 427.8,545.1 427.0,547.0 C426.2,548.9 420.2,549.9 418.8,551.8 C417.4,553.7 420.2,556.7 418.8,558.3 C417.4,559.9 411.7,560.2 410.6,561.5 C409.5,562.8 412.0,565.2 412.3,566.0"/>
<path d="M422.0,569.7 C422.3,570.0 421.0,570.2 423.7,571.3 C426.4,572.4 435.3,574.6 438.3,576.2 C441.3,577.8 439.9,579.9 441.5,581.0 C443.1,582.1 446.6,581.6 448.0,582.7 C449.4,583.8 450.5,585.4 449.7,587.6 C448.9,589.8 445.6,593.5 443.2,595.7 C440.8,597.9 438.2,599.5 435.0,600.6 C431.8,601.7 428.3,601.4 423.7,602.2 C419.1,603.0 410.1,604.9 407.4,605.4"/>
<path d="M422.0,569.7 C420.7,572.6 416.7,581.3 414.0,587.0 C411.3,592.7 408.2,600.2 405.8,603.8 C403.4,607.4 400.4,607.9 399.3,608.7"/>
<path d="M210.0,554.0 C208.8,553.2 204.8,551.0 202.5,549.5 C200.2,548.0 197.8,546.9 196.5,545.0 C195.2,543.1 196.0,539.6 195.0,538.0 C194.0,536.4 191.5,536.8 190.5,535.5 C189.5,534.2 189.2,531.6 189.0,530.0 C188.8,528.4 189.0,527.5 189.5,526.0 C190.0,524.5 190.8,522.8 192.0,521.0 C193.2,519.2 194.8,516.2 196.5,515.5 C198.2,514.8 200.8,515.8 202.5,516.5 C204.2,517.2 205.8,519.2 207.0,519.5 C208.2,519.8 208.5,518.1 210.0,518.0 C211.5,517.9 214.0,518.1 216.0,518.8 C218.0,519.4 220.5,521.1 222.0,522.0 C223.5,522.9 224.5,523.7 225.0,524.0"/>
</g>
<g fill="none" stroke="#1c9acd" stroke-width="2.7" stroke-linecap="round" stroke-linejoin="round">
<path d="M213.4,379.6 L205.8,379.8 L205.0,384.0 L207.5,387.5 L205.0,391.0 L207.5,394.5 L205.0,398.0 L207.5,401.5 L205.5,405.5 L213.4,406.6"/>
<path d="M213.4,381.5 C213.4,379.2 215.5,378.6 220,378.6 C224.5,378.6 226.5,379.4 226.5,382 L226.5,404.5 C226.5,406.8 224.5,407.4 220,407.4 C215.5,407.4 213.6,406.8 213.6,404.5 Z"/>
<path d="M226.5,382.5 C226.5,380.6 228.5,379.9 233,379.9 L240.8,379.9 M226.5,404.5 C226.5,407.8 229,408.6 234,408.7 L243.5,408.8"/>
<path d="M246.5,412.0 C246.0,408.8 244.5,399.3 243.5,393.0 C242.5,386.7 241.0,377.2 240.5,374.0"/>
<path d="M240.5,374.0 C243.8,373.6 253.5,371.8 260.0,371.5 C266.5,371.2 274.2,371.8 279.5,372.2 C284.8,372.8 289.9,374.1 292.0,374.5"/>
<path d="M246.5,412.0 C247.2,412.5 248.8,413.8 251.0,415.0 C253.2,416.2 257.0,417.2 260.0,419.5 C263.0,421.8 266.2,425.2 269.0,428.5 C271.8,431.8 273.5,436.2 276.5,439.0 C279.5,441.8 284.4,444.0 287.0,445.0 C289.6,446.0 291.2,445.0 292.0,445.0"/>
<path d="M292.5,371.0 C292.3,373.3 291.5,377.7 291.5,385.0 C291.5,392.3 292.1,405.0 292.2,415.0 C292.4,425.0 291.9,438.5 292.2,445.0 C292.6,451.5 293.1,451.2 294.5,454.0 C295.9,456.8 298.1,459.8 300.5,462.0 C302.9,464.2 306.5,465.3 309.0,467.5 C311.5,469.7 313.7,472.8 315.5,475.0 C317.3,477.2 319.5,479.2 320.0,481.0 C320.5,482.8 319.7,484.2 318.5,485.5 C317.3,486.8 314.2,487.1 313.0,488.5 C311.8,489.9 312.3,492.1 311.0,494.0 C309.7,495.9 306.3,498.0 305.0,500.0 C303.7,502.0 304.3,504.5 303.0,506.0 C301.7,507.5 298.5,507.5 297.0,509.0 C295.5,510.5 295.5,513.7 294.0,515.0 C292.5,516.3 290.0,516.0 288.0,517.0 C286.0,518.0 283.7,519.7 282.0,521.0 C280.3,522.3 279.7,524.5 278.0,525.0 C276.3,525.5 273.5,523.2 272.0,524.0 C270.5,524.8 271.0,528.4 269.0,530.0 C267.0,531.6 263.5,532.8 260.0,533.5 C256.5,534.2 251.3,534.0 248.0,534.0 C244.7,534.0 242.3,534.8 240.0,533.5 C237.7,532.2 235.0,527.2 234.0,526.0"/>
<path d="M292.5,371.0 C293.3,370.3 295.9,367.7 297.5,367.0 C299.1,366.3 299.8,366.6 302.0,367.0 C304.2,367.4 306.8,368.4 311.0,369.2 C315.2,370.1 321.0,371.7 327.5,372.2 C334.0,372.8 344.1,372.3 350.0,372.5 C355.9,372.7 360.3,373.4 363.0,373.2 C365.7,373.0 364.8,371.6 366.0,371.2 C367.2,370.8 368.5,370.4 370.0,370.5 C371.5,370.6 373.7,371.4 375.0,371.8 C376.3,372.2 374.2,373.1 378.0,373.0 C381.8,372.9 392.5,371.5 397.5,371.5 C402.5,371.5 404.2,372.0 408.0,373.0 C411.8,374.0 415.5,375.5 420.0,377.5 C424.5,379.5 431.7,383.2 435.0,385.0 C438.3,386.8 438.1,388.2 440.0,388.5 C441.9,388.8 444.4,386.6 446.5,386.8 C448.6,387.0 451.2,388.1 452.5,389.5 C453.8,390.9 450.8,393.2 454.5,395.5 C458.2,397.8 467.8,401.2 475.0,403.5 C482.2,405.8 492.2,408.0 497.5,409.5 C502.8,411.0 504.6,411.0 506.5,412.5 C508.4,414.0 508.4,417.5 508.8,418.5"/>
<path d="M363.0,374.5 C362.8,378.8 362.5,392.0 361.5,400.0 C360.5,408.0 359.2,414.5 357.0,422.5 C354.8,430.5 351.7,439.2 348.0,448.0 C344.3,456.8 338.3,468.0 335.0,475.0 C331.7,482.0 331.3,485.3 328.0,490.0 C324.7,494.7 319.7,498.5 315.0,503.0 C310.3,507.5 305.0,513.0 300.0,517.0 C295.0,521.0 290.0,524.2 285.0,527.0 C280.0,529.8 274.7,531.2 270.0,534.0 C265.3,536.8 259.2,542.3 257.0,544.0"/>
<path d="M376.5,374.5 C376.2,378.8 375.9,392.0 375.0,400.0 C374.1,408.0 372.4,416.5 371.2,422.5 C370.1,428.5 369.6,431.0 368.2,436.0 C366.9,441.0 365.4,446.0 363.0,452.5 C360.6,459.0 357.3,467.9 354.0,475.0 C350.7,482.1 347.0,488.7 343.0,495.0 C339.0,501.3 334.7,508.2 330.0,513.0 C325.3,517.8 320.0,520.5 315.0,524.0 C310.0,527.5 305.0,530.7 300.0,534.0 C295.0,537.3 290.0,540.8 285.0,544.0 C280.0,547.2 272.5,551.5 270.0,553.0"/>
<path d="M326.0,491.5 L338.2,500.6 L321.8,495.9 L334.7,505.9 L317.6,500.3 L331.2,511.2 L313.3,504.6 L326.6,515.5 L308.8,508.8 L321.5,519.2 L304.4,512.9 L316.4,523.0 L299.9,517.1 L311.2,526.6 L294.9,520.4 L305.9,530.1 L289.8,523.8 L300.6,533.6 L284.7,527.1 L295.3,537.1 L279.2,529.7 L290.1,540.6 L273.7,532.3 L284.8,544.1 L268.4,535.3 L279.3,547.3 L263.7,539.1 L273.8,550.4 L259.0,543.0"/>
<path d="M369.0,436.0 C370.5,435.5 373.8,433.5 378.0,433.0 C382.2,432.5 389.2,432.4 394.5,433.0 C399.8,433.6 405.2,435.2 409.5,436.8 C413.8,438.2 416.8,439.6 420.0,442.0 C423.2,444.4 427.5,449.5 429.0,451.0"/>
<path d="M439.5,389.5 C439.2,392.5 438.8,400.8 438.0,407.5 C437.2,414.2 436.5,422.8 435.0,430.0 C433.5,437.2 430.8,443.5 429.0,451.0 C427.2,458.5 426.2,468.5 424.5,475.0 C422.8,481.5 421.3,483.4 418.8,490.0 C416.2,496.6 412.5,506.3 409.0,514.4 C405.5,522.5 401.1,532.5 397.6,538.8 C394.1,545.1 390.9,548.0 388.0,552.0 C385.1,556.0 382.7,560.1 380.0,563.0 C377.3,565.9 373.3,568.4 372.0,569.5"/>
<path d="M452.5,391.0 C452.2,394.2 451.8,399.3 451.0,410.0 C450.2,420.7 449.8,441.1 447.5,455.0 C445.2,468.9 440.9,483.6 437.5,493.5 C434.1,503.4 430.4,506.8 427.0,514.4 C423.6,521.9 420.7,530.9 417.2,538.8 C413.7,546.6 407.7,557.7 405.8,561.5"/>
<path d="M411.0,509.0 L427.9,512.0 L408.2,515.4 L425.6,518.0 L405.4,521.7 L423.4,523.9 L402.6,528.1 L421.0,529.8 L399.6,534.4 L418.5,535.7 L396.4,540.5 L415.8,541.5 L392.3,546.1 L412.9,547.2 L388.2,551.7 L410.1,552.9 L384.1,557.4 L407.2,558.6 L380.0,563.0"/>
<path d="M234.0,525.0 C235.0,526.3 237.8,530.7 240.0,533.0 C242.2,535.3 244.5,537.0 247.5,539.0 C250.5,541.0 254.2,543.0 258.0,545.0 C261.8,547.0 265.5,548.5 270.0,551.0 C274.5,553.5 279.6,557.2 285.0,560.0 C290.4,562.8 295.8,565.6 302.5,567.5 C309.2,569.4 317.5,570.8 325.0,571.5 C332.5,572.2 340.0,572.2 347.5,572.0 C355.0,571.8 362.1,570.7 370.0,570.2 C377.9,569.7 387.1,569.3 395.0,569.0 C402.9,568.7 412.7,568.4 417.2,568.5 C421.7,568.6 421.2,569.5 422.0,569.7"/>
<path d="M234.0,524.5 C233.2,523.9 231.0,521.1 229.5,521.0 C228.0,520.9 227.0,520.5 225.0,524.0 C223.0,527.5 220.0,536.5 217.5,542.0 C215.0,547.5 211.3,553.5 210.0,557.0 C208.7,560.5 209.0,561.2 209.5,563.0 C210.0,564.8 211.2,565.5 213.0,567.5 C214.8,569.5 218.5,572.2 220.5,575.0 C222.5,577.8 223.5,580.2 225.0,584.0 C226.5,587.8 227.0,593.2 229.5,597.5 C232.0,601.8 236.6,606.0 240.0,609.5 C243.4,613.0 245.8,615.8 250.0,618.5 C254.2,621.2 260.0,624.1 265.0,626.0 C270.0,627.9 273.8,628.8 280.0,630.0 C286.2,631.2 295.0,633.1 302.5,633.5 C310.0,633.9 317.5,633.1 325.0,632.2 C332.5,631.4 341.2,630.3 347.5,628.5 C353.8,626.7 358.4,623.4 362.5,621.5 C366.6,619.6 368.2,618.6 372.0,617.2 C375.8,615.9 380.4,614.9 385.0,613.5 C389.6,612.1 395.6,610.1 399.3,608.7 C403.0,607.4 406.0,606.0 407.4,605.4"/>
<path d="M255.0,563.5 C259.7,563.6 272.5,570.2 280.0,572.5 C287.5,574.8 292.5,576.0 300.0,577.5 C307.5,579.0 317.1,580.6 325.0,581.5 C332.9,582.4 340.5,582.8 347.5,583.0 C354.5,583.2 364.4,581.1 367.0,582.8 C369.6,584.4 364.2,589.4 363.0,593.0 C361.8,596.6 362.1,602.6 359.5,604.5 C356.9,606.4 353.2,604.7 347.5,604.5 C341.8,604.3 332.9,604.0 325.0,603.5 C317.1,603.0 307.5,602.5 300.0,601.5 C292.5,600.5 286.3,599.2 280.0,597.5 C273.7,595.8 266.8,593.2 262.0,591.5 C257.2,589.8 253.1,588.4 251.0,587.0 C248.9,585.6 249.3,585.5 249.5,583.0 C249.7,580.5 251.1,575.2 252.0,572.0 C252.9,568.8 250.3,563.4 255.0,563.5Z"/>
<path d="M268.0,627.0 C268.2,625.2 268.4,619.3 269.4,616.3 C270.4,613.3 271.8,611.1 273.8,608.8 C275.8,606.5 280.1,603.5 281.3,602.5"/>
<path d="M275.6,628.8 C275.7,627.3 275.6,623.0 276.3,620.0 C277.0,617.0 277.7,613.4 280.0,610.6 C282.3,607.8 288.3,604.3 290.0,603.0"/>
<path d="M508.8,419.0 C505.6,425.3 496.1,444.6 490.0,457.0 C483.9,469.4 475.0,487.4 472.0,493.5"/>
<path d="M508.8,420.0 C511.9,420.8 521.0,422.8 527.5,424.5 C534.0,426.2 542.9,428.5 547.5,430.5 C552.1,432.5 553.8,434.9 555.4,436.6 C557.0,438.4 557.0,440.1 557.1,441.0 C557.2,441.9 557.8,439.2 556.2,442.0 C554.6,444.8 549.8,453.1 547.5,457.6 C545.2,462.1 543.7,466.2 542.2,469.0 C540.8,471.8 540.2,472.8 538.8,474.2 C537.3,475.7 535.0,476.9 533.5,477.5 C532.0,478.1 533.5,477.6 530.0,477.8 C526.5,477.9 519.2,476.6 512.5,478.5 C505.8,480.4 496.8,486.5 490.0,489.0 C483.2,491.5 475.0,492.8 472.0,493.5"/>
<path d="M557.1,442.8 L568.5,445.4 L575.5,447.1 L579.0,448.9 L588.0,453.5 L585.0,458.0 L588.0,462.0 L584.0,466.5 L586.5,470.5 L580.5,472.5 L579.0,477.8 L559.8,475.1 L543.0,470.8"/>
<path d="M559.8,475.0 C560.6,472.8 563.2,466.4 565.0,462.0 C566.8,457.6 569.4,451.1 570.2,448.9"/>
<path d="M572.0,474.2 C572.7,472.2 574.7,465.9 576.0,462.0 C577.3,458.1 579.2,452.5 579.9,450.6"/>
<path d="M472.0,493.5 C470.2,494.6 465.0,497.7 461.0,499.8 C457.0,501.9 452.2,504.2 448.0,506.3 C443.8,508.4 437.6,510.3 436.0,512.5 C434.4,514.7 439.3,516.8 438.3,519.3 C437.3,521.8 431.1,524.7 430.0,527.4 C428.9,530.1 432.9,533.3 431.8,535.5 C430.8,537.7 424.5,538.5 423.7,540.4 C422.9,542.3 427.8,545.1 427.0,547.0 C426.2,548.9 420.2,549.9 418.8,551.8 C417.4,553.7 420.2,556.7 418.8,558.3 C417.4,559.9 411.7,560.2 410.6,561.5 C409.5,562.8 412.0,565.2 412.3,566.0"/>
<path d="M422.0,569.7 C422.3,570.0 421.0,570.2 423.7,571.3 C426.4,572.4 435.3,574.6 438.3,576.2 C441.3,577.8 439.9,579.9 441.5,581.0 C443.1,582.1 446.6,581.6 448.0,582.7 C449.4,583.8 450.5,585.4 449.7,587.6 C448.9,589.8 445.6,593.5 443.2,595.7 C440.8,597.9 438.2,599.5 435.0,600.6 C431.8,601.7 428.3,601.4 423.7,602.2 C419.1,603.0 410.1,604.9 407.4,605.4"/>
<path d="M422.0,569.7 C420.7,572.6 416.7,581.3 414.0,587.0 C411.3,592.7 408.2,600.2 405.8,603.8 C403.4,607.4 400.4,607.9 399.3,608.7"/>
<path d="M210.0,554.0 C208.8,553.2 204.8,551.0 202.5,549.5 C200.2,548.0 197.8,546.9 196.5,545.0 C195.2,543.1 196.0,539.6 195.0,538.0 C194.0,536.4 191.5,536.8 190.5,535.5 C189.5,534.2 189.2,531.6 189.0,530.0 C188.8,528.4 189.0,527.5 189.5,526.0 C190.0,524.5 190.8,522.8 192.0,521.0 C193.2,519.2 194.8,516.2 196.5,515.5 C198.2,514.8 200.8,515.8 202.5,516.5 C204.2,517.2 205.8,519.2 207.0,519.5 C208.2,519.8 208.5,518.1 210.0,518.0 C211.5,517.9 214.0,518.1 216.0,518.8 C218.0,519.4 220.5,521.1 222.0,522.0 C223.5,522.9 224.5,523.7 225.0,524.0"/>
</g>
<line x1="297" y1="187.5" x2="349.8" y2="167.4" stroke="#47984a" stroke-width="1.3"/>
<circle cx="297" cy="187.5" r="2.9" fill="#3ea63e"/>
<line x1="126" y1="349.5" x2="48" y2="441" stroke="#47984a" stroke-width="1.3"/>
<circle cx="126" cy="349.5" r="2.9" fill="#3ea63e"/>
<line x1="292.5" y1="593.5" x2="48" y2="522" stroke="#47984a" stroke-width="1.3"/>
<circle cx="292.5" cy="593.5" r="2.9" fill="#3ea63e"/>
<line x1="391" y1="466.5" x2="424.5" y2="284" stroke="#47984a" stroke-width="1.3"/>
<circle cx="391" cy="466.5" r="2.9" fill="#3ea63e"/>
<line x1="380.5" y1="512.5" x2="475" y2="330" stroke="#47984a" stroke-width="1.3"/>
<circle cx="380.5" cy="512.5" r="2.9" fill="#3ea63e"/>
<line x1="563" y1="467.5" x2="576" y2="406" stroke="#47984a" stroke-width="1.3"/>
<circle cx="563" cy="467.5" r="2.9" fill="#3ea63e"/>
<line x1="427.5" y1="543.5" x2="544" y2="535.5" stroke="#47984a" stroke-width="1.3"/>
<circle cx="427.5" cy="543.5" r="2.9" fill="#3ea63e"/>
<line x1="329" y1="621.5" x2="474" y2="623.5" stroke="#47984a" stroke-width="1.3"/>
<circle cx="329" cy="621.5" r="2.9" fill="#3ea63e"/>
<line x1="277" y1="615.5" x2="446" y2="729.5" stroke="#47984a" stroke-width="1.3"/>
<circle cx="277" cy="615.5" r="2.9" fill="#3ea63e"/>
<g>
<path d="M407.07,162.15 A16.6,16.6 0 0 1 379.26,178.53" fill="none" stroke="#1e4686" stroke-width="1.5"/>
<path d="M375.33,171.85 A16.6,16.6 0 0 1 403.14,155.47" fill="none" stroke="#1e4686" stroke-width="1.5"/>
<path d="M404.89,157.28 L403.84,152.45 L400.10,156.07 Z" fill="#1e4686"/>
<path d="M377.51,176.72 L378.56,181.55 L382.30,177.93 Z" fill="#1e4686"/>
<path d="M388.5,174.5 C383,174 379.5,169 380,163.5 C385,163.5 389,166.5 389.5,171 Z" fill="#1e4686"/>
<path d="M389,174.5 C388,167 393,161.5 402.5,161 C403,169 397,174.5 389,174.5 Z" fill="#1e4686"/>
<path d="M390.5,173.5 L398,165.5" stroke="#d6e8f6" stroke-width="1"/>
<path d="M388,172.5 L383.5,167" stroke="#d6e8f6" stroke-width="0.7"/>
<g fill="none" stroke="#2b508c" stroke-width="1.1" stroke-linecap="round" stroke-linejoin="round">
<path d="M412.5,230.2 L438.5,230.2 A2.8,4.9 0 0 1 438.5,240 L412.5,240"/>
<ellipse cx="412.8" cy="235.1" rx="2.7" ry="4.9"/>
<ellipse cx="412.8" cy="235.1" rx="1.1" ry="2.4"/>
<path d="M418,233.5 L434,233.5 M418,236.5 L422.5,236.5 M425,236.5 L437.5,236.8"/>
<path d="M417,240.8 L442.5,240.8 A2.8,4.9 0 0 1 442.5,250.6 L417,250.6"/>
<ellipse cx="417" cy="245.7" rx="2.7" ry="4.9"/>
<ellipse cx="417" cy="245.7" rx="1.1" ry="2.4"/>
<path d="M424,244 L439,244 M422,247.2 L426,247.2 M428,247.2 L441.5,247.4"/>
<ellipse cx="406.3" cy="243" rx="3" ry="5.4"/>
<ellipse cx="406.3" cy="243" rx="1.2" ry="2.6"/>
<path d="M406.3,237.6 L411,237.6 M406.3,248.4 L414.5,248.4 M410,243 L413.8,243"/>
<path d="M420.5,230.2 L420.5,225.3 L423,224.6 L426.5,230.2"/>
<path d="M423.5,226.5 L428.5,225.5"/>
<path d="M428.5,225.5 C428.5,221.5 431,218.5 434.6,218 C434.8,222 432.5,225 428.5,225.5 Z"/>
<path d="M429.8,224 L432.5,220.8"/>
</g>
<g fill="none" stroke="#3a5a8a" stroke-width="1.05" stroke-linecap="round">
<path d="M520.00,311.50 Q517.25,316.00 515.62,319.50 A5.0,5.0 0 1 0 524.38,319.50 Q522.75,316.00 520.00,311.50 Z"/>
<path d="M508.40,320.20 Q507.19,322.66 506.43,324.11 A2.2,2.2 0 1 0 510.37,324.11 Q509.61,322.66 508.40,320.20 Z"/>
<path d="M530.90,320.20 Q529.69,322.66 528.93,324.11 A2.2,2.2 0 1 0 532.87,324.11 Q532.11,322.66 530.90,320.20 Z"/>
<path d="M523.3,321.2 A2.6,2.6 0 0 1 521.5,324.4" stroke-width="0.8"/>
<path d="M498.80,329.80 L499.51,330.11 L500.21,330.36 L500.92,330.51 L501.63,330.55 L502.33,330.45 L503.04,330.24 L503.75,329.96 L504.45,329.64 L505.16,329.36 L505.87,329.15 L506.57,329.05 L507.28,329.09 L507.99,329.24 L508.69,329.49 L509.40,329.80 L510.11,330.11 L510.81,330.36 L511.52,330.51 L512.23,330.55 L512.93,330.45 L513.64,330.24 L514.35,329.96 L515.05,329.64 L515.76,329.36 L516.47,329.15 L517.17,329.05 L517.88,329.09 L518.59,329.24 L519.29,329.49 L520.00,329.80 L520.71,330.11 L521.41,330.36 L522.12,330.51 L522.83,330.55 L523.53,330.45 L524.24,330.24 L524.95,329.96 L525.65,329.64 L526.36,329.36 L527.07,329.15 L527.77,329.05 L528.48,329.09 L529.19,329.24 L529.89,329.49 L530.60,329.80 L531.31,330.11 L532.01,330.36 L532.72,330.51 L533.43,330.55 L534.13,330.45 L534.84,330.24 L535.55,329.96 L536.25,329.64 L536.96,329.36 L537.67,329.15 L538.37,329.05 L539.08,329.09 L539.79,329.24 L540.49,329.49 L541.20,329.80"/>
<path d="M498.80,338.60 L499.51,338.91 L500.21,339.16 L500.92,339.31 L501.63,339.35 L502.33,339.25 L503.04,339.04 L503.75,338.76 L504.45,338.44 L505.16,338.16 L505.87,337.95 L506.57,337.85 L507.28,337.89 L507.99,338.04 L508.69,338.29 L509.40,338.60 L510.11,338.91 L510.81,339.16 L511.52,339.31 L512.23,339.35 L512.93,339.25 L513.64,339.04 L514.35,338.76 L515.05,338.44 L515.76,338.16 L516.47,337.95 L517.17,337.85 L517.88,337.89 L518.59,338.04 L519.29,338.29 L520.00,338.60 L520.71,338.91 L521.41,339.16 L522.12,339.31 L522.83,339.35 L523.53,339.25 L524.24,339.04 L524.95,338.76 L525.65,338.44 L526.36,338.16 L527.07,337.95 L527.77,337.85 L528.48,337.89 L529.19,338.04 L529.89,338.29 L530.60,338.60 L531.31,338.91 L532.01,339.16 L532.72,339.31 L533.43,339.35 L534.13,339.25 L534.84,339.04 L535.55,338.76 L536.25,338.44 L536.96,338.16 L537.67,337.95 L538.37,337.85 L539.08,337.89 L539.79,338.04 L540.49,338.29 L541.20,338.60"/>
<path d="M498.80,345.00 L499.51,345.31 L500.21,345.56 L500.92,345.71 L501.63,345.75 L502.33,345.65 L503.04,345.44 L503.75,345.16 L504.45,344.84 L505.16,344.56 L505.87,344.35 L506.57,344.25 L507.28,344.29 L507.99,344.44 L508.69,344.69 L509.40,345.00 L510.11,345.31 L510.81,345.56 L511.52,345.71 L512.23,345.75 L512.93,345.65 L513.64,345.44 L514.35,345.16 L515.05,344.84 L515.76,344.56 L516.47,344.35 L517.17,344.25 L517.88,344.29 L518.59,344.44 L519.29,344.69 L520.00,345.00 L520.71,345.31 L521.41,345.56 L522.12,345.71 L522.83,345.75 L523.53,345.65 L524.24,345.44 L524.95,345.16 L525.65,344.84 L526.36,344.56 L527.07,344.35 L527.77,344.25 L528.48,344.29 L529.19,344.44 L529.89,344.69 L530.60,345.00 L531.31,345.31 L532.01,345.56 L532.72,345.71 L533.43,345.75 L534.13,345.65 L534.84,345.44 L535.55,345.16 L536.25,344.84 L536.96,344.56 L537.67,344.35 L538.37,344.25 L539.08,344.29 L539.79,344.44 L540.49,344.69 L541.20,345.00"/>
<circle cx="503.4" cy="334.3" r="1.3"/>
<circle cx="514.4" cy="334.3" r="1.3"/>
<circle cx="525.3" cy="334.3" r="1.3"/>
<circle cx="536.2" cy="334.3" r="1.3"/>
<circle cx="508.9" cy="334.3" r="0.5" fill="#3a5a8a"/>
<circle cx="519.9" cy="334.3" r="0.5" fill="#3a5a8a"/>
<circle cx="530.8" cy="334.3" r="0.5" fill="#3a5a8a"/>
<circle cx="508.9" cy="342" r="1.35"/>
<circle cx="519.9" cy="342" r="1.35"/>
<circle cx="530.8" cy="342" r="1.35"/>
<circle cx="514.4" cy="342" r="0.5" fill="#3a5a8a"/>
<circle cx="525.3" cy="342" r="0.5" fill="#3a5a8a"/>
</g>
<g transform="translate(618.6,408.6) rotate(45)"><path d="M-7.5,-1.8 A3.8,3.8 0 0 1 -3.8,-3.8 L3.8,-3.8 A3.8,3.8 0 0 1 3.8,3.8 L-3.8,3.8 A3.8,3.8 0 0 1 -7.4,1.6" fill="none" stroke="#9aaec6" stroke-width="1.7" stroke-linecap="round"/></g>
<g transform="translate(609.6,401.4) rotate(45)"><path d="M3.2,-4.3 L-4.6,-4.3 A4.3,4.3 0 0 0 -4.6,4.3 L3.2,4.3 A4.3,4.3 0 0 0 7.0,-2.0" fill="none" stroke="#1d3d7e" stroke-width="2.2" stroke-linecap="round"/></g>
<path d="M583.6,520.6 C580,526 574.5,531 573.2,537 C571.5,545 577,549.6 583.7,549.6 C590.5,549.6 595.6,545 594.2,537 C593,531 587.5,526 583.6,520.6 Z" fill="none" stroke="#2a4672" stroke-width="1.35" stroke-linejoin="round"/>
<path d="M577.6,538.6 C577.8,542.5 580,544.5 583.6,544.8" fill="none" stroke="#2a4672" stroke-width="1.3" stroke-linecap="round"/>
<g fill="#5f7595" opacity="0.9">
<path d="M518.50,646.50 Q512.97,623.14 504.20,600.80 Q510.87,623.80 518.50,646.50 Z"/>
<path d="M513.60,624.00 Q505.28,621.22 496.50,621.20 Q504.99,622.99 513.60,624.00 Z"/>
<path d="M511.00,619.00 Q507.39,614.72 503.20,611.00 Q506.24,615.84 511.00,619.00 Z"/>
<path d="M503.40,611.20 Q502.70,613.56 503.00,616.00 Q503.70,613.64 503.40,611.20 Z"/>
<path d="M512.80,622.00 Q517.36,616.03 520.00,609.00 Q515.96,615.26 512.80,622.00 Z"/>
<path d="M517.20,639.00 Q520.76,631.79 523.40,624.20 Q519.29,631.17 517.20,639.00 Z"/>
<path d="M514.00,626.50 Q516.08,636.44 519.50,646.00 Q517.42,636.06 514.00,626.50 Z"/>
<path d="M513.60,624.80 Q516.38,628.33 520.00,631.00 Q517.22,627.47 513.60,624.80 Z"/>
</g>
<path d="M481.4,729.6 L481.4,715 A2.85,2.85 0 0 1 487.1,715 L487.1,729.6 A6.3,6.3 0 1 1 481.4,729.6 Z" fill="none" stroke="#1b3f84" stroke-width="1.5"/>
<circle cx="484.25" cy="735.3" r="3.5" fill="#1b3f84"/>
<path d="M484.25,715.5 L484.25,732" stroke="#1b3f84" stroke-width="1.4"/>
<path d="M474.5,720.5 L480,720.5 M476.5,718.3 L480,718.3 M476.5,722.7 L480,722.7" stroke="#1b3f84" stroke-width="1" opacity="0.8"/>
<path d="M494,718.2 C492.5,722 490,725.5 490.5,729.5 C491,733.5 494,735.6 497,735.4 C500,735 501.2,732 500.2,728.5 C499,724.5 496,721.5 494,718.2 Z" fill="#1d4d9e"/>
<path d="M46.2,496.5 L46.6,489 L43.5,484.5 M46.6,489.5 L50.5,484.2 M46.4,492 L46.4,496.5" stroke="#4d6c9c" stroke-width="1.4" fill="none" stroke-linecap="round"/>
<path d="M44.6,496.6 L48.4,496.6" stroke="#4d6c9c" stroke-width="1"/>
<g fill="#6185c0"><circle cx="36" cy="478.5" r="4"/><circle cx="39" cy="473.5" r="4.5"/><circle cx="44.5" cy="470.5" r="4.5"/><circle cx="50.5" cy="470" r="4.5"/><circle cx="56" cy="471.5" r="4.5"/><circle cx="60.5" cy="475.5" r="3.8"/><circle cx="61.5" cy="480.5" r="3.2"/><circle cx="57" cy="483" r="3.8"/><circle cx="51" cy="483.5" r="3.8"/><circle cx="45" cy="483" r="3.5"/><circle cx="39.5" cy="483" r="3.3"/><circle cx="34.5" cy="481.5" r="2.6"/><circle cx="47.5" cy="476.5" r="6.5"/><circle cx="54" cy="477" r="5.5"/><circle cx="41" cy="477.5" r="5"/></g>
<circle cx="46.9" cy="476.8" r="1.7" fill="#4868a8" opacity="0.7"/>
<circle cx="47.2" cy="476.1" r="1.5" fill="#4868a8" opacity="0.7"/>
<circle cx="40.4" cy="476.2" r="1.5" fill="#4868a8" opacity="0.7"/>
<circle cx="55.0" cy="470.3" r="1.2" fill="#4868a8" opacity="0.7"/>
<circle cx="38.2" cy="480.3" r="1.6" fill="#4868a8" opacity="0.7"/>
<circle cx="37.0" cy="482.8" r="1.8" fill="#4868a8" opacity="0.7"/>
<circle cx="51.7" cy="477.6" r="1.1" fill="#4868a8" opacity="0.7"/>
<circle cx="36.4" cy="476.4" r="1.0" fill="#4868a8" opacity="0.7"/>
<circle cx="40.6" cy="472.4" r="1.0" fill="#4868a8" opacity="0.7"/>
<circle cx="47.1" cy="475.2" r="1.7" fill="#4868a8" opacity="0.7"/>
<circle cx="48.5" cy="478.0" r="1.4" fill="#4868a8" opacity="0.7"/>
<circle cx="51.9" cy="475.4" r="1.2" fill="#4868a8" opacity="0.7"/>
<circle cx="59.9" cy="482.9" r="1.7" fill="#4868a8" opacity="0.7"/>
<circle cx="53.0" cy="473.4" r="1.2" fill="#4868a8" opacity="0.7"/>
<circle cx="42.9" cy="470.0" r="1.6" fill="#4868a8" opacity="0.7"/>
<circle cx="45.6" cy="480.9" r="1.3" fill="#4868a8" opacity="0.7"/>
<circle cx="59.0" cy="480.9" r="1.0" fill="#4868a8" opacity="0.7"/>
<circle cx="41.0" cy="481.7" r="1.4" fill="#4868a8" opacity="0.7"/>
<circle cx="60.5" cy="474.5" r="0.5" fill="#c2d8f2" opacity="0.9"/>
<circle cx="51.4" cy="480.2" r="0.6" fill="#c2d8f2" opacity="0.9"/>
<circle cx="37.3" cy="473.5" r="1.0" fill="#c2d8f2" opacity="0.9"/>
<circle cx="54.7" cy="470.3" r="0.6" fill="#c2d8f2" opacity="0.9"/>
<circle cx="37.6" cy="469.4" r="0.9" fill="#c2d8f2" opacity="0.9"/>
<circle cx="39.6" cy="476.9" r="0.7" fill="#c2d8f2" opacity="0.9"/>
<circle cx="40.0" cy="479.5" r="0.6" fill="#c2d8f2" opacity="0.9"/>
<circle cx="51.7" cy="470.2" r="0.7" fill="#c2d8f2" opacity="0.9"/>
<circle cx="40.5" cy="472.5" r="1.0" fill="#c2d8f2" opacity="0.9"/>
<circle cx="55.9" cy="473.1" r="0.9" fill="#c2d8f2" opacity="0.9"/>
<circle cx="40.5" cy="474.4" r="0.9" fill="#c2d8f2" opacity="0.9"/>
<circle cx="51.7" cy="470.0" r="1.0" fill="#c2d8f2" opacity="0.9"/>
<circle cx="40.5" cy="472.4" r="0.9" fill="#c2d8f2" opacity="0.9"/>
<circle cx="43.6" cy="472.9" r="0.5" fill="#c2d8f2" opacity="0.9"/>
<circle cx="37.3" cy="477.2" r="0.6" fill="#c2d8f2" opacity="0.9"/>
<circle cx="50.6" cy="474.1" r="0.7" fill="#c2d8f2" opacity="0.9"/>
<circle cx="59.9" cy="475.8" r="0.8" fill="#c2d8f2" opacity="0.9"/>
<circle cx="57.5" cy="471.2" r="0.6" fill="#c2d8f2" opacity="0.9"/>
<circle cx="58.6" cy="480.8" r="0.6" fill="#c2d8f2" opacity="0.9"/>
<circle cx="39.9" cy="479.6" r="1.0" fill="#c2d8f2" opacity="0.9"/>
<circle cx="40.1" cy="482.8" r="0.9" fill="#c2d8f2" opacity="0.9"/>
<circle cx="50.7" cy="474.8" r="0.6" fill="#c2d8f2" opacity="0.9"/>
<circle cx="36.0" cy="482.9" r="0.6" fill="#c2d8f2" opacity="0.9"/>
<circle cx="53.3" cy="472.4" r="0.9" fill="#c2d8f2" opacity="0.9"/>
<circle cx="50.5" cy="472.9" r="0.6" fill="#c2d8f2" opacity="0.9"/>
<circle cx="53.7" cy="469.5" r="0.6" fill="#c2d8f2" opacity="0.9"/>
<circle cx="49.5" cy="481.3" r="0.8" fill="#c2d8f2" opacity="0.9"/>
<circle cx="42.3" cy="482.3" r="0.6" fill="#c2d8f2" opacity="0.9"/>
<circle cx="35.4" cy="472.5" r="0.7" fill="#c2d8f2" opacity="0.9"/>
<circle cx="36.6" cy="471.1" r="0.7" fill="#c2d8f2" opacity="0.9"/>
<path d="M46.72,759.32 L46.07,759.22 L45.41,759.09 L44.77,758.92 L44.15,758.70 L43.57,758.42 L43.03,758.08 L42.55,757.67 L42.13,757.20 L41.77,756.67 L41.49,756.09 L41.26,755.49 L41.09,754.86 L40.96,754.21 L40.86,753.57 L40.78,752.94 L40.69,752.33 L40.59,751.75 L40.45,751.18 L40.28,750.65 L40.06,750.13 L39.80,749.63 L39.49,749.14 L39.14,748.66 L38.76,748.17 L38.36,747.66 L37.97,747.14 L37.60,746.60 L37.27,746.03 L36.99,745.44 L36.78,744.84 L36.64,744.22 L36.60,743.60 L36.64,742.98 L36.78,742.36 L36.99,741.76 L37.27,741.17 L37.60,740.60 L37.97,740.06 L38.36,739.54 L38.76,739.03 L39.14,738.54 L39.49,738.06 L39.80,737.57 L40.06,737.07 L40.28,736.55 L40.45,736.02 L40.59,735.45 L40.69,734.87 L40.78,734.26 L40.86,733.63 L40.96,732.99 L41.09,732.34 L41.26,731.71 L41.49,731.11 L41.77,730.53 L42.13,730.00 L42.55,729.53 L43.03,729.12 L43.57,728.78 L44.15,728.50 L44.77,728.28 L45.41,728.11 L46.07,727.98 L46.72,727.88 L47.36,727.80 L47.99,727.71 L48.59,727.61 L49.16,727.48 L49.71,727.31 L50.23,727.10 L50.74,726.84 L51.24,726.53 L51.74,726.19 L52.24,725.82 L52.76,725.43 L53.29,725.05 L53.84,724.69 L54.42,724.36 L55.02,724.09 L55.63,723.88 L56.26,723.75 L56.90,723.71 L57.54,723.75 L58.17,723.88 L58.78,724.09 L59.38,724.36 L59.96,724.69 L60.51,725.05 L61.04,725.43 L61.56,725.82 L62.06,726.19 L62.56,726.53 L63.06,726.84 L63.57,727.10 L64.09,727.31 L64.64,727.48 L65.21,727.61 L65.81,727.71 L66.44,727.80 L67.08,727.88 L67.73,727.98 L68.39,728.11 L69.03,728.28 L69.65,728.50 L70.23,728.78 L70.77,729.12 L71.25,729.53 L71.67,730.00 L72.03,730.53 L72.31,731.11 L72.54,731.71 L72.71,732.34 L72.84,732.99 L72.94,733.63 L73.02,734.26 L73.11,734.87 L73.21,735.45 L73.35,736.02 L73.52,736.55 L73.74,737.07 L74.00,737.57 L74.31,738.06 L74.66,738.54 L75.04,739.03 L75.44,739.54 L75.83,740.06 L76.20,740.60 L76.53,741.17 L76.81,741.76 L77.02,742.36 L77.16,742.98 L77.20,743.60 L77.20,743.60 L77.16,744.22 L77.02,744.84 L76.81,745.44 L76.53,746.03 L76.20,746.60 L75.83,747.14 L75.44,747.66 L75.04,748.17 L74.66,748.66 L74.31,749.14 L74.00,749.63 L73.74,750.13 L73.52,750.65 L73.35,751.18 L73.21,751.75 L73.11,752.33 L73.02,752.94 L72.94,753.57 L72.84,754.21 L72.71,754.86 L72.54,755.49 L72.31,756.09 L72.03,756.67 L71.67,757.20 L71.25,757.67 L70.77,758.08 L70.23,758.42 L69.65,758.70 L69.03,758.92 L68.39,759.09 L67.73,759.22 L67.08,759.32" fill="none" stroke="#2c5a84" stroke-width="1.05"/>
<text x="43.8" y="746" font-size="19" font-weight="700" fill="#1c3f82" stroke="#1c3f82" stroke-width="0.9" textLength="23.2" lengthAdjust="spacingAndGlyphs">CO</text>
<text x="68" y="748.6" font-size="6.8" font-weight="700" fill="#1c3f82" stroke="#1c3f82" stroke-width="0.3">2</text>
<text x="45.4" y="753.6" font-size="4.4" font-weight="700" fill="#1c3f82" stroke="#1c3f82" stroke-width="0.2" textLength="21" lengthAdjust="spacingAndGlyphs">NEUTRAL</text>
<path d="M56.8,764 C52,763 50,759.5 50.5,756 C54.5,756.5 57,759.5 56.8,764 Z M57.2,764 C57,759.5 59.5,756.5 63.8,756 C64.2,759.5 62,763 57.2,764 Z" fill="none" stroke="#2c5a84" stroke-width="0.9"/>
<path d="M56.5,763 L52.5,758.5 M57.5,763 L61.5,758.5" stroke="#2c5a84" stroke-width="0.6"/>
</g>
<g fill="#1b4c9c" fill-rule="evenodd">
<path d="M87,30.9 C97.5,30.9 103.7,40 103.7,52.3 C103.7,64.6 97.5,73.7 87,73.7 C76.5,73.7 70.3,64.6 70.3,52.3 C70.3,40 76.5,30.9 87,30.9 Z M87,39.3 C83,39.3 80.4,44.5 80.4,52.35 C80.4,60.2 83,65.4 87,65.4 C91,65.4 93.6,60.2 93.6,52.35 C93.6,44.5 91,39.3 87,39.3 Z"/>
<path d="M116.4,32.7 C121.8,32.7 125.6,36.8 125.6,42.2 C125.6,47.6 121.8,51.7 116.4,51.7 C111,51.7 107.2,47.6 107.2,42.2 C107.2,36.8 111,32.7 116.4,32.7 Z M116.6,38 C114.9,38 113.7,39.8 113.7,42.2 C113.7,44.6 114.9,46.4 116.6,46.4 C118.3,46.4 119.6,44.6 119.6,42.2 C119.6,39.8 118.3,38 116.6,38 Z"/>
<path d="M144.5,55.9 C150,55.9 154,59.8 154,64.8 C154,69.8 150,73.7 144.5,73.7 C139,73.7 135,69.8 135,64.8 C135,59.8 139,55.9 144.5,55.9 Z M144.6,61.2 C142.9,61.2 141.6,62.9 141.6,65.1 C141.6,67.3 142.9,69 144.6,69 C146.3,69 147.5,67.3 147.5,65.1 C147.5,62.9 146.3,61.2 144.6,61.2 Z"/>
<path d="M132.7,33.3 L147.2,33.3 L129.7,73.7 L114.9,73.7 Z"/>
</g>
<text x="176" y="67.5" font-size="24" font-weight="400" fill="#1c4a84" textLength="565.0" lengthAdjust="spacingAndGlyphs">cloro, petrolatum, fragancias, látex, ftalatos, parabenos</text>
<text x="430.5" y="161.2" font-size="12.3" font-weight="700" fill="#173d80" stroke="#173d80" stroke-width="0.3" textLength="90.5" lengthAdjust="spacingAndGlyphs">Biofilm vegetal</text>
<text x="430.5" y="177.5" font-size="12.0" font-weight="400" fill="#314b77" textLength="279.5" lengthAdjust="spacingAndGlyphs">Fabricado con 85% de ingredientes renovables.</text>
<text x="470.4" y="236.1" font-size="12.3" font-weight="700" fill="#173d80" stroke="#173d80" stroke-width="0.3" textLength="103.3" lengthAdjust="spacingAndGlyphs">Pulpa de madera</text>
<text x="470.4" y="252.4" font-size="12.0" font-weight="400" fill="#314b77" textLength="232.6" lengthAdjust="spacingAndGlyphs">100% certificada por FSC procedente de</text>
<text x="470.4" y="268.6" font-size="12.0" font-weight="400" fill="#314b77" textLength="213.6" lengthAdjust="spacingAndGlyphs">Finlandia Totalmente Libre de Cloro.</text>
<text x="557.5" y="308.7" font-size="12.3" font-weight="700" fill="#173d80" stroke="#173d80" stroke-width="0.3" textLength="162.1" lengthAdjust="spacingAndGlyphs">Polímero superabsorbente</text>
<text x="557.5" y="325.4" font-size="12.0" font-weight="400" fill="#314b77" textLength="206.5" lengthAdjust="spacingAndGlyphs">SAP neutro fabricado en Alemania.</text>
<text x="557.5" y="341.8" font-size="12.0" font-weight="400" fill="#314b77" textLength="208.7" lengthAdjust="spacingAndGlyphs">Captura rápidamente los líquidos y</text>
<text x="557.5" y="357.6" font-size="12.0" font-weight="400" fill="#314b77" textLength="161.5" lengthAdjust="spacingAndGlyphs">aísla la piel de la humedad.</text>
<text x="656.6" y="402.6" font-size="12.3" font-weight="700" fill="#173d80" stroke="#173d80" stroke-width="0.3" textLength="127.8" lengthAdjust="spacingAndGlyphs">Fijación velcro suave</text>
<text x="656.6" y="418.5" font-size="12.0" font-weight="400" fill="#314b77" textLength="90.9" lengthAdjust="spacingAndGlyphs">Sin pegamento</text>
<text x="620.6" y="531.3" font-size="12.3" font-weight="700" fill="#173d80" stroke="#173d80" stroke-width="0.3" textLength="113.7" lengthAdjust="spacingAndGlyphs">Barreras antifugas</text>
<text x="620.6" y="547.5" font-size="12.0" font-weight="400" fill="#314b77" textLength="95.4" lengthAdjust="spacingAndGlyphs">Suaves sin latex.</text>
<text x="552.5" y="605" font-size="12.3" font-weight="700" fill="#173d80" stroke="#173d80" stroke-width="0.3" textLength="215.3" lengthAdjust="spacingAndGlyphs">Biofilm transpirable a base de caña</text>
<text x="552.5" y="621.6" font-size="12.3" font-weight="700" fill="#173d80" stroke="#173d80" stroke-width="0.3" textLength="59.5" lengthAdjust="spacingAndGlyphs">de ázucar</text>
<text x="552.5" y="638" font-size="12.0" font-weight="400" fill="#314b77" textLength="213.3" lengthAdjust="spacingAndGlyphs">Fabricado con 85% caña de ázucar.</text>
<text x="522.9" y="728.7" font-size="12.3" font-weight="700" fill="#173d80" stroke="#173d80" stroke-width="0.3" textLength="138.1" lengthAdjust="spacingAndGlyphs">Indicador de humedad</text>
<text x="522.9" y="744.3" font-size="12.0" font-weight="400" fill="#314b77" textLength="97.5" lengthAdjust="spacingAndGlyphs">Cambia de color</text>
<text x="88.6" y="473.2" font-size="12.3" font-weight="700" fill="#173d80" stroke="#173d80" stroke-width="0.3" textLength="165.9" lengthAdjust="spacingAndGlyphs">Tintas de grado alimenticio</text>
<text x="88.6" y="490.2" font-size="12.0" font-weight="400" fill="#314b77" textLength="172.2" lengthAdjust="spacingAndGlyphs">Tanto en el pañal como en la</text>
<text x="88.6" y="506.4" font-size="12.0" font-weight="400" fill="#314b77" textLength="35.4" lengthAdjust="spacingAndGlyphs">bolsa.</text>
<text x="106" y="731" font-size="12.3" font-weight="700" fill="#173d80" stroke="#173d80" stroke-width="0.3" textLength="137.5" lengthAdjust="spacingAndGlyphs">Huella Cárbono neutra</text>
<text x="106" y="747.4" font-size="13.0" font-weight="400" fill="#314b77" textLength="280.0" lengthAdjust="spacingAndGlyphs">Compensamos el 100% de la huella de carbono</text>
<text x="106" y="762.8" font-size="13.0" font-weight="400" fill="#314b77" textLength="222.5" lengthAdjust="spacingAndGlyphs">generada en la fabricación del pañal.</text>
</svg>
</body></html>
